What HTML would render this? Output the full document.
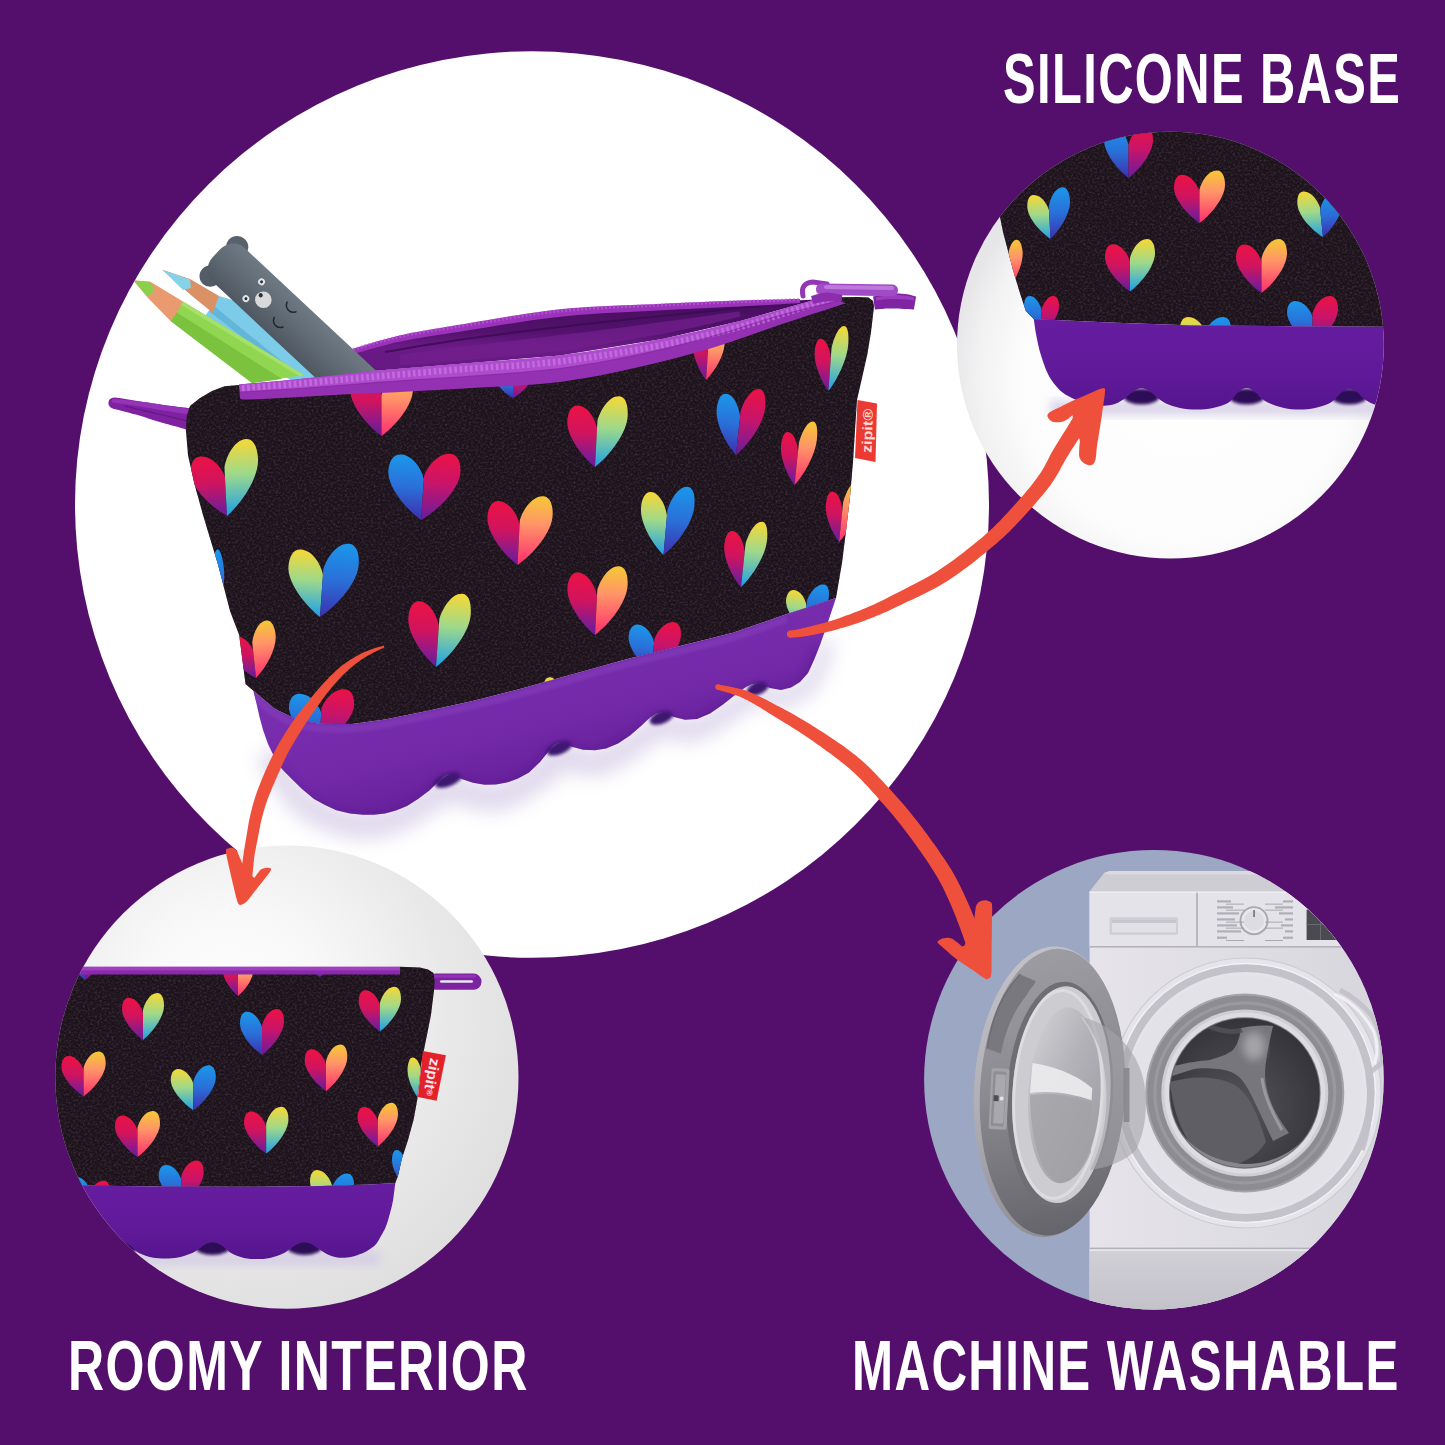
<!DOCTYPE html>
<html lang="en"><head><meta charset="utf-8"><title>Pencil case features</title>
<style>html,body{margin:0;padding:0;background:#530f6b;}body{width:1445px;height:1445px;overflow:hidden;position:relative;font-family:"Liberation Sans",sans-serif;}svg{display:block;position:absolute;left:0;top:0;}
.lbl{position:absolute;color:#fff;font-family:"Liberation Sans",sans-serif;font-weight:bold;font-size:71.2px;line-height:1;white-space:nowrap;transform-origin:0 0;margin:0;letter-spacing:2px;}
</style></head><body>
<svg width="1445" height="1445" viewBox="0 0 1445 1445">
<defs>
<linearGradient id="gred" x1="0" y1="0" x2="0" y2="1"><stop offset="0" stop-color="#ec1244"/><stop offset="0.45" stop-color="#d0145e"/><stop offset="0.8" stop-color="#8a1a8c"/><stop offset="1" stop-color="#641c98"/></linearGradient><linearGradient id="gyc" x1="0" y1="0" x2="0" y2="1"><stop offset="0" stop-color="#f6d835"/><stop offset="0.45" stop-color="#9fd98a"/><stop offset="1" stop-color="#1d9fe8"/></linearGradient><linearGradient id="gblue" x1="0" y1="0" x2="0" y2="1"><stop offset="0" stop-color="#1b97ea"/><stop offset="0.5" stop-color="#2a6fd8"/><stop offset="1" stop-color="#3d2fae"/></linearGradient><linearGradient id="gyp" x1="0" y1="0" x2="0" y2="1"><stop offset="0" stop-color="#f6c834"/><stop offset="0.4" stop-color="#ff9568"/><stop offset="1" stop-color="#ff2d6e"/></linearGradient><linearGradient id="gredr" x1="0" y1="0" x2="0" y2="1"><stop offset="0" stop-color="#ec1244"/><stop offset="0.45" stop-color="#c8146a"/><stop offset="0.8" stop-color="#8a1a8c"/><stop offset="1" stop-color="#641c98"/></linearGradient>
<clipPath id="cBig"><ellipse cx="532" cy="504.5" rx="457" ry="453.3"/></clipPath>
<clipPath id="cTR"><circle cx="1170.4" cy="345.1" r="213.4"/></clipPath>
<clipPath id="cBL"><circle cx="286.9" cy="1077.2" r="231.6"/></clipPath>
<clipPath id="cBR"><circle cx="1153.9" cy="1079.7" r="229.8"/></clipPath>
<clipPath id="fabMain"><polygon points="239,385 300,380 376,372 458,365.5 560,357 662,341 739,323 790,309 816,301 839.7,297.2 858,297 868.5,297.5 873,301 874,306 873.5,311 871,332 867.3,354.5 862,378 857,400 855,430 853,462 850,497 846,531 842,563 836,598 787,614 733,632.7 680,646 626.4,659.3 570,675 518,689.6 473.6,700.7 429.3,710.6 385,719.5 352,724 318.6,723.5 296.4,719.5 274.3,708.4 253.3,690.7 245.5,684 239.2,635 230,611 218.4,566 203,515 194.2,483 188,455 185.8,429 187,415 190,406 200,398 212,391 224.6,386.3"/></clipPath>
<linearGradient id="baseG" gradientUnits="userSpaceOnUse" x1="520" y1="640" x2="560" y2="800"><stop offset="0" stop-color="#7a2fb0"/><stop offset="0.55" stop-color="#7228a7"/><stop offset="1" stop-color="#601d94"/></linearGradient>
<linearGradient id="penG" x1="0" y1="0" x2="0" y2="1"><stop offset="0" stop-color="#6f7983"/><stop offset="0.45" stop-color="#626c76"/><stop offset="1" stop-color="#4f5861"/></linearGradient>
<linearGradient id="liningG" x1="0" y1="0" x2="0" y2="1"><stop offset="0" stop-color="#450d5c"/><stop offset="0.4" stop-color="#52126c"/><stop offset="0.6" stop-color="#6a1b86"/><stop offset="1" stop-color="#62187e"/></linearGradient>
<filter id="blur4" x="-20%" y="-20%" width="140%" height="140%"><feGaussianBlur stdDeviation="4"/></filter>
<filter id="blur8" x="-30%" y="-30%" width="160%" height="160%"><feGaussianBlur stdDeviation="9"/></filter>
<filter id="blur2" x="-20%" y="-20%" width="140%" height="140%"><feGaussianBlur stdDeviation="1.6"/></filter>
<pattern id="weave" width="3" height="3" patternUnits="userSpaceOnUse" patternTransform="rotate(-24)"><rect width="3" height="3" fill="#180f17"/><circle cx="0.8" cy="0.8" r="0.8" fill="#241923"/><circle cx="2.3" cy="2.3" r="0.8" fill="#1f151e"/></pattern>
<filter id="fabNoise" x="0" y="0" width="100%" height="100%" color-interpolation-filters="sRGB"><feTurbulence type="fractalNoise" baseFrequency="0.42 0.5" numOctaves="2" seed="7" result="n"/><feColorMatrix in="n" type="matrix" values="0 0 0 0 0.23  0 0 0 0 0.17  0 0 0 0 0.22  2.4 0 0 0 -1.0" result="c"/><feComposite in="c" in2="SourceGraphic" operator="in"/></filter>
</defs>
<rect width="1445" height="1445" fill="#530f6b"/>
<g clip-path="url(#cBig)">
<rect x="70" y="45" width="925" height="925" fill="#ffffff"/>
<path d="M256.8 758.6 L262 767.9 L269.7 781.7 L279.3 796.9 L290.3 810.1 L302.5 819.8 L315.4 827.2 L328.6 832.8 L341.8 836.7 L355 838.8 L368.4 839.2 L382.2 837.8 L397.2 834.1 L412.7 826.6 L427.4 817.1 L440.3 808.9 L450.1 804.7 L458 804.8 L468.5 807.8 L482.5 811.6 L499.6 811.8 L516.2 805.9 L531.1 797.6 L543.8 789 L554.1 781.9 L561.7 775 L565.6 769.1 L563.9 770 L561 771 L564.8 771.3 L574 774 L587.4 776.8 L603.4 775.6 L619.1 768.7 L634.1 759.2 L647.4 749.7 L657.5 742.6 L663.8 737.9 L666.8 734.4 L662.8 736.8 L660.9 737 L664.6 737.5 L672.3 740.3 L684 742.9 L698.3 741.5 L712.8 734.8 L727.5 725.4 L740.9 716 L750.9 709.3 L756.5 705.8 L758.4 704.4 L756.5 705.1 L757.3 705 L761.5 705.3 L768.1 706.9 L777 708.5 L786.9 707.8 L795.9 704.5 L804.3 699.7 L812.3 693.4 L819.4 685.1 L824.9 674.2 L829.2 661.6 L832.5 650.1 L834.6 642.3 L821.4 637.7 L818.3 645.3 L814.2 656.2 L809.4 667.1 L804.6 674.9 L799.8 679.7 L794.1 683.8 L788.1 686.6 L783.1 688.2 L778.8 688.1 L773.1 686.6 L766.1 684.3 L758.7 683 L752.8 683.4 L747.5 685.3 L744.6 687.3 L739.1 690.7 L728.5 697.3 L715 706.1 L701.6 714.1 L691.7 718.5 L686.1 718.5 L679.9 716.5 L672.1 713.2 L663.1 711 L654.1 712.2 L647.4 717.1 L646.6 718.4 L642.5 721.4 L632.5 727.9 L619.4 736.6 L606.3 744.4 L596.6 748.4 L590 748.4 L581.6 746 L571.2 742.5 L559 741 L546.6 745.5 L540.4 752.7 L539.2 755.2 L535.9 758.1 L526.9 764.2 L515.3 772 L503.6 778.7 L494.4 782.2 L487 781.9 L476.4 778.8 L461.8 775.1 L443.9 775.3 L426.5 782.3 L411.2 791.8 L397.9 800.6 L386.8 805.9 L377 808.3 L367.4 809.3 L357.9 808.9 L348.2 807.3 L338 804.8 L327.8 801 L318.1 796 L309.7 789.9 L301.4 780.5 L292.7 767.6 L284.9 754.6 L279.2 745.4Z" fill="#cdc2e2" opacity="0.6" filter="url(#blur8)"/>
<polygon points="351,350 400,338 458,326.5 560,312 662,305 790,300.7 816,299.4 739.3,321.2 662.4,339 560,355.4 458.4,364 400,368.7 376,370.8 300,379" fill="url(#liningG)"/>
<path d="M400.5 365 L403.8 364.8 L407.7 364.6 L412.3 364.4 L417.5 364 L423.2 363.7 L429.5 363.2 L436.2 362.7 L443.3 362.2 L450.9 361.6 L458.7 361 L467.1 360.2 L476.3 359.3 L486.1 358.5 L496.4 357.5 L507 356.5 L517.9 355.5 L528.9 354.4 L539.8 353.3 L550.5 352.1 L561 350.9 L571.3 349.4 L581.8 347.8 L592.4 346.1 L603 344.4 L613.5 342.6 L623.9 340.8 L634.2 339.1 L644.1 337.3 L653.7 335.6 L663 333.9 L672.1 332.1 L681.3 330.1 L690.5 328.2 L699.5 326.2 L708.1 324.2 L716.3 322.4 L723.7 320.6 L730.4 319 L736 317.6 L740.4 316.5 L739.6 311.5 L734.9 312 L729.2 312.7 L722.4 313.6 L714.9 314.7 L706.6 315.9 L697.9 317.1 L688.8 318.4 L679.5 319.7 L670.2 320.9 L661 322.1 L651.8 323.4 L642.1 324.7 L632.2 326 L621.9 327.4 L611.5 328.8 L600.9 330.1 L590.3 331.4 L579.7 332.7 L569.3 333.9 L559 335.1 L548.7 336.4 L538 337.8 L527.2 339.1 L516.3 340.4 L505.5 341.6 L494.9 342.8 L484.6 343.9 L474.9 345 L465.7 346.1 L457.3 347 L449.4 348.1 L442 349.1 L434.9 350 L428.2 350.9 L422 351.7 L416.3 352.5 L411.2 353.2 L406.6 353.9 L402.7 354.5 L399.5 355Z" fill="#73208f" opacity="0.7"/>
<path d="M385 352 L397.4 349.9 L415.1 346.8 L436 343.4 L458 340 L481.5 336.8 L507.2 333.4 L533.8 330.1 L560 327 L585.6 324.1 L611.2 321.3 L636.8 318.6 L662 316 L689.1 313.2 L717.4 310.3 L742.5 307.8 L760 306" fill="none" stroke="#3b0a52" stroke-width="2" opacity="0.8"/>
<path d="M351.7 354.4 L354.6 353.6 L358.3 352.6 L362.6 351.4 L367.4 350 L372.6 348.5 L378.2 347 L383.8 345.5 L389.6 344 L395.2 342.6 L400.7 341.4 L405.9 340.4 L410.9 339.4 L415.9 338.5 L421 337.7 L426.2 336.8 L431.7 336 L437.6 335.1 L444 334.2 L450.9 333.1 L458.6 332 L467 330.6 L476.2 329.1 L486 327.5 L496.2 325.8 L506.8 324.1 L517.6 322.4 L528.5 320.8 L539.4 319.2 L550.1 317.9 L560.4 316.7 L570.6 315.7 L581.1 314.8 L591.6 314 L602.1 313.3 L612.7 312.7 L623.1 312.2 L633.3 311.7 L643.3 311.2 L652.9 310.8 L662.2 310.2 L671 309.8 L679.6 309.3 L687.9 308.9 L695.9 308.5 L703.8 308.2 L711.4 307.8 L718.8 307.5 L726.1 307.1 L733.2 306.8 L740.1 306.5 L747.1 306.1 L754.2 305.7 L761.3 305.3 L768.3 304.9 L775 304.5 L781.3 304.2 L787.1 303.8 L792.2 303.5 L796.6 303.2 L800.1 303 L799.9 299 L796.4 299 L792 299.1 L786.9 299.2 L781.1 299.4 L774.8 299.5 L768.1 299.7 L761.1 299.9 L754 300.1 L746.9 300.3 L739.9 300.5 L732.9 300.8 L725.8 301 L718.6 301.3 L711.1 301.6 L703.5 301.9 L695.7 302.2 L687.6 302.6 L679.3 302.9 L670.7 303.3 L661.8 303.8 L652.6 304.2 L643 304.5 L633 304.9 L622.8 305.3 L612.3 305.8 L601.8 306.3 L591.1 306.8 L580.5 307.5 L570 308.3 L559.6 309.3 L549.1 310.5 L538.4 311.9 L527.5 313.5 L516.5 315.2 L505.7 316.9 L495 318.7 L484.8 320.4 L475 322.1 L465.8 323.7 L457.4 325 L449.8 326.3 L442.9 327.4 L436.6 328.5 L430.7 329.5 L425.2 330.4 L419.9 331.4 L414.8 332.3 L409.7 333.3 L404.6 334.4 L399.3 335.6 L393.8 336.9 L388.1 338.4 L382.3 340 L376.6 341.6 L371.1 343.2 L365.9 344.8 L361.1 346.3 L356.8 347.6 L353.2 348.7 L350.3 349.6Z" fill="#9a33b9"/>
<path d="M353 349.5 L361.2 347.1 L372.9 343.6 L386.4 339.8 L400 336.5 L412.7 333.9 L425.6 331.7 L440.1 329.3 L458 326.5 L480.4 322.8 L506.2 318.5 L533.5 314.3 L560 311 L586.1 308.8 L612.5 307.2 L638.2 306.1 L662 305 L683.6 304 L703.6 303.1 L722.3 302.4 L740 301.7 L757.7 301.1 L774.9 300.5 L789.6 300 L800 299.7" fill="none" stroke="#b859d6" stroke-width="3" stroke-dasharray="2 2" opacity="0.7"/>
<polygon points="219,296 236,301 322,377 290,380 205,316" fill="#7ccbe8"/>
<polygon points="210,312 292,376 300,376 214,306" fill="#62b7d9"/>
<polygon points="162.3,269.8 190,279 219,296 216,304 213,313 192,296" fill="#da9165"/>
<polygon points="162.3,269.8 190,279.5 191,288 183,290" fill="#86d2e8"/>
<polygon points="183,301.5 304,375 252,383 170.6,321" fill="#90d650"/>
<polygon points="176,312 282,379 252,383 170.6,321" fill="#7bc33e"/>
<polygon points="183,301.5 304,375 300,376.5 181,305" fill="#a6e06a"/>
<polygon points="133.2,280.3 150,281.5 183,301.5 178,311 170.6,321 148,298" fill="#ea9a6f"/>
<polygon points="133.2,280.3 152,283 154,292 147,296" fill="#8ad04a"/>
<g transform="translate(222 260.5) rotate(43)">
<circle cx="2" cy="-20" r="11.2" fill="#59626c"/><circle cx="2" cy="19.6" r="10.6" fill="#545d67"/>
<rect x="-9" y="-24.5" width="230" height="46.5" rx="16" ry="18" fill="url(#penG)"/>
<circle cx="57" cy="0.5" r="8.3" fill="#d9d9db"/><circle cx="52" cy="-1" r="2.1" fill="#2b2f36"/>
<circle cx="43.5" cy="-11.4" r="3.4" fill="#e6e6e8"/><circle cx="43.5" cy="-11.4" r="1.5" fill="#2b2f36"/>
<circle cx="43.5" cy="11.6" r="3.4" fill="#e6e6e8"/><circle cx="43.5" cy="11.6" r="1.5" fill="#2b2f36"/>
<path d="M76 -14 c2 6 10 7 13 1 M77 6 c2 6 10 7 13 1" stroke="#23262c" stroke-width="1.5" fill="none" stroke-linecap="round"/>
</g>
<circle cx="114" cy="403" r="5.6" fill="#7f22a1"/>
<path d="M112.8 408.5 L114.4 408.9 L116.3 409.5 L118.7 410.1 L121.3 410.8 L124.1 411.6 L127.1 412.3 L130.1 413.1 L133 413.9 L135.9 414.6 L138.5 415.3 L140.9 416.1 L143.4 416.8 L145.8 417.6 L148.2 418.4 L150.6 419.2 L153 419.9 L155.5 420.7 L158 421.5 L160.5 422.2 L163.1 423 L165.9 423.8 L168.8 424.6 L171.9 425.5 L175.1 426.3 L178.1 427.1 L181.1 427.9 L183.8 428.7 L186.3 429.4 L188.3 430 L189.9 430.5 L194.1 408.5 L192.5 408.4 L190.3 408.2 L187.8 407.9 L185 407.6 L182 407.3 L178.8 406.9 L175.7 406.5 L172.6 406.1 L169.6 405.7 L166.9 405.4 L164.3 405 L161.8 404.7 L159.3 404.3 L156.8 404 L154.3 403.6 L151.8 403.2 L149.2 402.8 L146.7 402.4 L144.1 402 L141.5 401.7 L138.8 401.2 L135.9 400.7 L132.8 400.2 L129.8 399.7 L126.7 399.2 L123.8 398.8 L121.2 398.3 L118.8 398 L116.7 397.7 L115.2 397.5Z" fill="#7f22a1"/>
<path d="M111.8 402.2 L113.5 402.5 L115.6 402.9 L118.2 403.2 L121.1 403.7 L124.2 404.1 L127.4 404.6 L130.7 405.1 L133.8 405.5 L136.9 406 L139.7 406.5 L142.2 406.9 L144.8 407.3 L147.3 407.7 L149.7 408.1 L152.2 408.6 L154.6 409 L157.1 409.4 L159.5 409.9 L162 410.3 L164.6 410.7 L167.3 411.1 L170.1 411.6 L173.1 412 L176.2 412.5 L179.1 413 L182 413.4 L184.7 413.8 L187 414.2 L189 414.5 L190.6 414.7 L191.4 409.3 L189.9 409 L187.9 408.7 L185.5 408.4 L182.8 408 L180 407.5 L177 407.1 L174 406.6 L171 406.1 L168.1 405.7 L165.4 405.3 L162.9 404.9 L160.4 404.5 L158 404.1 L155.5 403.8 L153.1 403.4 L150.6 403 L148.1 402.6 L145.6 402.2 L143 401.9 L140.3 401.5 L137.5 401.2 L134.4 400.9 L131.2 400.5 L127.9 400.2 L124.7 399.9 L121.6 399.6 L118.7 399.3 L116.1 399.1 L113.9 398.9 L112.2 398.8Z" fill="#9534b8"/>
<path d="M125 406 L131.5 407.6 L140.7 409.8 L150 412 L158.6 414.1 L167.3 416.1 L175 418 L181.9 419.6 L187.9 421 L192 422" fill="none" stroke="#5f1480" stroke-width="1.3" opacity="0.7"/>
<polygon points="239,385 300,380 376,372 458,365.5 560,357 662,341 739,323 790,309 816,301 839.7,297.2 858,297 868.5,297.5 873,301 874,306 873.5,311 871,332 867.3,354.5 862,378 857,400 855,430 853,462 850,497 846,531 842,563 836,598 787,614 733,632.7 680,646 626.4,659.3 570,675 518,689.6 473.6,700.7 429.3,710.6 385,719.5 352,724 318.6,723.5 296.4,719.5 274.3,708.4 253.3,690.7 245.5,684 239.2,635 230,611 218.4,566 203,515 194.2,483 188,455 185.8,429 187,415 190,406 200,398 212,391 224.6,386.3" fill="url(#weave)"/>
<polygon points="239,385 300,380 376,372 458,365.5 560,357 662,341 739,323 790,309 816,301 839.7,297.2 858,297 868.5,297.5 873,301 874,306 873.5,311 871,332 867.3,354.5 862,378 857,400 855,430 853,462 850,497 846,531 842,563 836,598 787,614 733,632.7 680,646 626.4,659.3 570,675 518,689.6 473.6,700.7 429.3,710.6 385,719.5 352,724 318.6,723.5 296.4,719.5 274.3,708.4 253.3,690.7 245.5,684 239.2,635 230,611 218.4,566 203,515 194.2,483 188,455 185.8,429 187,415 190,406 200,398 212,391 224.6,386.3" fill="#000" filter="url(#fabNoise)"/>
<g clip-path="url(#fabMain)">
<g transform="translate(227 440) rotate(-3 0 76)"><path d="M0 76 L0 37.1 C-2.7 27.4 -11.9 15.2 -23.1 15.2 C-30.6 15.2 -34 22.5 -34 31.6 C-34 45.6 -17 65.1 0 76Z" fill="url(#gred)"/><path d="M0 76 L0 27.4 C2.7 15.2 11.9 0 23.1 0 C30.6 0 34 9.1 34 20.5 C34 38 17 62.3 0 76Z" fill="url(#gyc)"/></g>
<g transform="translate(421 452) rotate(4 0 68)"><path d="M0 68 L0 27.1 C-2.9 16.9 -12.6 4.1 -24.5 4.1 C-32.4 4.1 -36 11.8 -36 21.3 C-36 36 -18 56.5 0 68Z" fill="url(#gblue)"/><path d="M0 68 L0 24.5 C2.9 13.6 12.6 0 24.5 0 C32.4 0 36 8.2 36 18.4 C36 34 18 55.8 0 68Z" fill="url(#gredr)"/></g>
<g transform="translate(595 395) rotate(3 0 72)"><path d="M0 72 L0 33.3 C-2.4 23.6 -10.5 11.5 -20.4 11.5 C-27 11.5 -30 18.8 -30 27.8 C-30 41.8 -15 61.1 0 72Z" fill="url(#gred)"/><path d="M0 72 L0 25.9 C2.4 14.4 10.5 0 20.4 0 C27 0 30 8.6 30 19.4 C30 36 15 59 0 72Z" fill="url(#gyc)"/></g>
<g transform="translate(517.5 495) rotate(3 0 70)"><path d="M0 70 L0 29.7 C-2.6 19.6 -11.4 7 -22.1 7 C-29.2 7 -32.5 14.6 -32.5 24 C-32.5 38.5 -16.2 58.7 0 70Z" fill="url(#gred)"/><path d="M0 70 L0 25.2 C2.6 14 11.4 0 22.1 0 C29.2 0 32.5 8.4 32.5 18.9 C32.5 35 16.2 57.4 0 70Z" fill="url(#gyp)"/></g>
<g transform="translate(663.5 485) rotate(5 0 70)"><path d="M0 70 L0 30.6 C-2.1 20.7 -9.3 8.4 -18 8.4 C-23.9 8.4 -26.5 15.8 -26.5 25 C-26.5 39.2 -13.2 58.9 0 70Z" fill="url(#gyc)"/><path d="M0 70 L0 25.2 C2.1 14 9.3 0 18 0 C23.9 0 26.5 8.4 26.5 18.9 C26.5 35 13.2 57.4 0 70Z" fill="url(#gblue)"/></g>
<g transform="translate(320 542) rotate(4 0 75)"><path d="M0 75 L0 32.8 C-2.8 22.2 -12.2 9 -23.8 9 C-31.5 9 -35 16.9 -35 26.8 C-35 42 -17.5 63.1 0 75Z" fill="url(#gyc)"/><path d="M0 75 L0 27 C2.8 15 12.2 0 23.8 0 C31.5 0 35 9 35 20.2 C35 37.5 17.5 61.5 0 75Z" fill="url(#gblue)"/></g>
<g transform="translate(595 565) rotate(3 0 70)"><path d="M0 70 L0 30.6 C-2.4 20.7 -10.5 8.4 -20.4 8.4 C-27 8.4 -30 15.8 -30 25 C-30 39.2 -15 58.9 0 70Z" fill="url(#gred)"/><path d="M0 70 L0 25.2 C2.4 14 10.5 0 20.4 0 C27 0 30 8.4 30 18.9 C30 35 15 57.4 0 70Z" fill="url(#gyp)"/></g>
<g transform="translate(436 592) rotate(4 0 75)"><path d="M0 75 L0 33.7 C-2.5 23.4 -10.8 10.5 -21.1 10.5 C-27.9 10.5 -31 18.2 -31 27.9 C-31 42.8 -15.5 63.4 0 75Z" fill="url(#gred)"/><path d="M0 75 L0 27 C2.5 15 10.8 0 21.1 0 C27.9 0 31 9 31 20.2 C31 37.5 15.5 61.5 0 75Z" fill="url(#gyc)"/></g>
<g transform="translate(256 622) rotate(-6 0 56)"><path d="M0 56 L0 28 C-1.9 21.1 -8.4 12.3 -16.3 12.3 C-21.6 12.3 -24 17.6 -24 24.1 C-24 34.2 -12 48.1 0 56Z" fill="url(#gred)"/><path d="M0 56 L0 20.2 C1.9 11.2 8.4 0 16.3 0 C21.6 0 24 6.7 24 15.1 C24 28 12 45.9 0 56Z" fill="url(#gyp)"/></g>
<g transform="translate(651 620) rotate(6 0 52)"><path d="M0 52 L0 22.7 C-2.1 15.4 -9.1 6.2 -17.7 6.2 C-23.4 6.2 -26 11.7 -26 18.6 C-26 29.1 -13 43.8 0 52Z" fill="url(#gblue)"/><path d="M0 52 L0 18.7 C2.1 10.4 9.1 0 17.7 0 C23.4 0 26 6.2 26 14 C26 26 13 42.6 0 52Z" fill="url(#gredr)"/></g>
<g transform="translate(319.5 688) rotate(3 0 57)"><path d="M0 57 L0 24.9 C-2.6 16.9 -11.4 6.8 -22.1 6.8 C-29.2 6.8 -32.5 12.9 -32.5 20.4 C-32.5 31.9 -16.2 48 0 57Z" fill="url(#gblue)"/><path d="M0 57 L0 20.5 C2.6 11.4 11.4 0 22.1 0 C29.2 0 32.5 6.8 32.5 15.4 C32.5 28.5 16.2 46.7 0 57Z" fill="url(#gredr)"/></g>
<g transform="translate(828.5 325) rotate(4 0 66)"><path d="M0 66 L0 33.1 C-1.3 24.8 -5.8 14.5 -11.2 14.5 C-14.8 14.5 -16.5 20.7 -16.5 28.4 C-16.5 40.3 -8.2 56.7 0 66Z" fill="url(#gred)"/><path d="M0 66 L0 23.8 C1.3 13.2 5.8 0 11.2 0 C14.8 0 16.5 7.9 16.5 17.8 C16.5 33 8.2 54.1 0 66Z" fill="url(#gyc)"/></g>
<g transform="translate(736 387) rotate(6 0 68)"><path d="M0 68 L0 29.7 C-1.9 20.1 -8.4 8.2 -16.3 8.2 C-21.6 8.2 -24 15.3 -24 24.3 C-24 38.1 -12 57.2 0 68Z" fill="url(#gblue)"/><path d="M0 68 L0 24.5 C1.9 13.6 8.4 0 16.3 0 C21.6 0 24 8.2 24 18.4 C24 34 12 55.8 0 68Z" fill="url(#gredr)"/></g>
<g transform="translate(794.5 420) rotate(6 0 65)"><path d="M0 65 L0 31.7 C-1.4 23.4 -6.1 13 -11.9 13 C-15.8 13 -17.5 19.2 -17.5 27 C-17.5 39 -8.8 55.6 0 65Z" fill="url(#gred)"/><path d="M0 65 L0 23.4 C1.4 13 6.1 0 11.9 0 C15.8 0 17.5 7.8 17.5 17.6 C17.5 32.5 8.8 53.3 0 65Z" fill="url(#gyp)"/></g>
<g transform="translate(741 520) rotate(6 0 67)"><path d="M0 67 L0 31.8 C-1.7 23 -7.3 12.1 -14.3 12.1 C-18.9 12.1 -21 18.7 -21 26.9 C-21 39.5 -10.5 57.1 0 67Z" fill="url(#gred)"/><path d="M0 67 L0 24.1 C1.7 13.4 7.3 0 14.3 0 C18.9 0 21 8 21 18.1 C21 33.5 10.5 54.9 0 67Z" fill="url(#gyc)"/></g>
<g transform="translate(839 480) rotate(6 0 62)"><path d="M0 62 L0 30.3 C-1.4 22.3 -5.9 12.4 -11.6 12.4 C-15.3 12.4 -17 18.4 -17 25.8 C-17 37.2 -8.5 53.1 0 62Z" fill="url(#gred)"/><path d="M0 62 L0 22.3 C1.4 12.4 5.9 0 11.6 0 C15.3 0 17 7.4 17 16.7 C17 31 8.5 50.8 0 62Z" fill="url(#gyp)"/></g>
<g transform="translate(803 582) rotate(8 0 48)"><path d="M0 48 L0 23.4 C-1.7 17.3 -7.3 9.6 -14.3 9.6 C-18.9 9.6 -21 14.2 -21 20 C-21 28.8 -10.5 41.1 0 48Z" fill="url(#gyc)"/><path d="M0 48 L0 17.3 C1.7 9.6 7.3 0 14.3 0 C18.9 0 21 5.8 21 13 C21 24 10.5 39.4 0 48Z" fill="url(#gblue)"/></g>
<g transform="translate(381.5 372)"><path d="M0 64 L0 23 C-2.5 12.8 -11 0 -21.4 0 C-28.4 0 -31.5 7.7 -31.5 17.3 C-31.5 32 -15.8 52.5 0 64Z" fill="url(#gred)"/><path d="M0 64 L0 23 C2.5 12.8 11 0 21.4 0 C28.4 0 31.5 7.7 31.5 17.3 C31.5 32 15.8 52.5 0 64Z" fill="url(#gyp)"/></g>
<g transform="translate(513 372)"><path d="M0 26 L0 9.4 C-1.4 5.2 -5.9 0 -11.6 0 C-15.3 0 -17 3.1 -17 7 C-17 13 -8.5 21.3 0 26Z" fill="url(#gblue)"/><path d="M0 26 L0 9.4 C1.4 5.2 5.9 0 11.6 0 C15.3 0 17 3.1 17 7 C17 13 8.5 21.3 0 26Z" fill="url(#gredr)"/></g>
<g transform="translate(706 330) rotate(4 0 50)"><path d="M0 50 L0 18 C-1.3 10 -5.6 0 -10.9 0 C-14.4 0 -16 6 -16 13.5 C-16 25 -8 41 0 50Z" fill="url(#gred)"/><path d="M0 50 L0 18 C1.3 10 5.6 0 10.9 0 C14.4 0 16 6 16 13.5 C16 25 8 41 0 50Z" fill="url(#gyp)"/></g>
<g transform="translate(557.5 675) rotate(8 0 37)"><path d="M0 37 L0 15.7 C-1.4 10.4 -6.1 3.7 -11.9 3.7 C-15.8 3.7 -17.5 7.7 -17.5 12.7 C-17.5 20.3 -8.8 31 0 37Z" fill="url(#gyc)"/><path d="M0 37 L0 13.3 C1.4 7.4 6.1 0 11.9 0 C15.8 0 17.5 4.4 17.5 10 C17.5 18.5 8.8 30.3 0 37Z" fill="url(#gblue)"/></g>
<g transform="translate(218.5 550) rotate(-8 0 62)"><path d="M0 62 L0 22.3 C-0.9 12.4 -4 0 -7.8 0 C-10.3 0 -11.5 7.4 -11.5 16.7 C-11.5 31 -5.8 50.8 0 62Z" fill="url(#gyc)"/><path d="M0 62 L0 22.3 C0.9 12.4 4 0 7.8 0 C10.3 0 11.5 7.4 11.5 16.7 C11.5 31 5.8 50.8 0 62Z" fill="url(#gblue)"/></g>
</g>
<path d="M239 384.5 L249.6 383.6 L264.8 382.3 L282.3 380.7 L300 379 L319.2 377 L340.3 374.7 L360.3 372.5 L376 370.8 L384.9 369.9 L389.1 369.5 L392.8 369.3 L400 368.7 L411.2 367.8 L424.4 366.8 L440 365.5 L458.4 364 L480.7 362.3 L506.4 360.4 L533.5 358.2 L560 355.4 L586.1 351.9 L612.7 347.8 L638.6 343.4 L662.4 339 L684 334.6 L704.1 330 L722.5 325.4 L739.3 321.2 L754.4 317.2 L767.8 313.5 L779.7 310 L790 307 L798.5 304.5 L805.2 302.5 L810.8 300.8 L816 299.4 L821.1 298.4 L825.6 297.7 L829.4 297.3 L832 297 L846 303.5 L846.6 303.2 L847.9 302.7 L847.1 302.9 L841.7 304.6 L829.9 308.4 L813.4 313.7 L795.1 319.7 L777.7 325.5 L762 331 L746.5 336.6 L730.5 342.1 L713.6 347.5 L695.3 352.8 L676 358 L656.3 362.9 L636.8 367.5 L617.7 371.7 L598.6 375.7 L579.4 379.1 L560 382 L540.2 384 L520.2 385.4 L500.1 386.4 L480 387.5 L459.3 388.8 L438.1 390 L417.8 391.1 L400 392 L385.6 392.7 L373.7 393.1 L362.7 393.5 L351 394 L338.4 394.7 L325.7 395.5 L312.9 396.3 L300 397 L286 397.8 L271.3 398.5 L257.9 399.2 L248 399.5 L242.7 399.4 L240.8 398.9 L240.4 398.4 L240 398 Z" fill="#9431b3"/>
<path d="M239 384.5 L249.6 383.6 L264.8 382.3 L282.3 380.7 L300 379 L319.2 377 L340.3 374.7 L360.3 372.5 L376 370.8 L384.9 369.9 L389.1 369.5 L392.8 369.3 L400 368.7 L411.2 367.8 L424.4 366.8 L440 365.5 L458.4 364 L480.7 362.3 L506.4 360.4 L533.5 358.2 L560 355.4 L586.1 351.9 L612.7 347.8 L638.6 343.4 L662.4 339 L684 334.6 L704.1 330 L722.5 325.4 L739.3 321.2 L754.4 317.2 L767.8 313.5 L779.7 310 L790 307 L798.5 304.5 L805.2 302.5 L810.8 300.8 L816 299.4 L821.1 298.4 L825.6 297.7 L829.4 297.3 L832 297 L841.7 300 L830.2 302.8 L813.7 306.8 L795.2 311.3 L777.7 316 L762 320.7 L746.5 325.8 L730.5 331 L713.6 336 L695.3 340.9 L676 345.9 L656.3 350.7 L636.8 355 L617.7 358.9 L598.6 362.5 L579.4 365.7 L560 368.5 L540.2 370.7 L520.2 372.5 L500.1 374 L480 375.5 L459.3 377 L438.1 378.4 L417.8 379.6 L400 380.8 L385.6 381.8 L373.7 382.7 L362.7 383.6 L351 384.5 L338.6 385.5 L326.2 386.5 L313.4 387.5 L300 388.5 L284.2 389.5 L266.8 390.5 L251 391.4 L240 392 Z" fill="#ae4bce"/>
<path d="M242 388.5 L252 387.6 L266.2 386.4 L282.9 385 L300 383.5 L319 381.8 L340.1 379.8 L360.2 377.9 L376 376.5 L384.9 375.7 L389.1 375.4 L392.8 375.1 L400 374.5 L411.2 373.5 L424.4 372.4 L440 371 L458.4 369.5 L480.7 367.9 L506.4 366.2 L533.5 364.2 L560 361.5 L586.1 358 L612.7 353.9 L638.6 349.4 L662.4 345 L684 340.5 L704.1 335.9 L722.5 331.4 L739.3 327 L754.1 322.9 L767.1 318.9 L778.8 315.1 L790 311.5 L801.3 308 L812.2 304.5 L821.5 301.6 L828 299.5" fill="none" stroke="#c775e0" stroke-width="6.5" stroke-dasharray="2.6 2.6" opacity="0.75"/>
<path d="M240 392 L251 391.4 L266.8 390.5 L284.2 389.5 L300 388.5 L313.4 387.5 L326.2 386.5 L338.6 385.5 L351 384.5 L362.7 383.6 L373.7 382.7 L385.6 381.8 L400 380.8 L417.8 379.6 L438.1 378.4 L459.3 377 L480 375.5 L500.1 374 L520.2 372.5 L540.2 370.7 L560 368.5 L579.4 365.7 L598.6 362.5 L617.7 358.9 L636.8 355 L656.3 350.7 L676 345.9 L695.3 340.9 L713.6 336 L730.5 331 L746.5 325.8 L762 320.7 L777.7 316 L795.2 311.3 L813.7 306.8 L830.2 302.8 L841.7 300" fill="none" stroke="#7d2398" stroke-width="1.2" opacity="0.6"/>
<path d="M874.9 309.4 L875.9 309.4 L877.2 309.3 L878.7 309.2 L880.3 309.1 L882 308.9 L883.8 308.8 L885.6 308.6 L887.4 308.5 L889 308.5 L890.4 308.5 L891.7 308.4 L893.2 308.4 L894.6 308.4 L896.1 308.5 L897.5 308.5 L899 308.6 L900.4 308.7 L901.8 308.8 L903.1 308.9 L904.4 309 L905.5 309 L906.6 309 L907.7 309.1 L908.7 309.1 L909.8 309.2 L910.8 309.3 L911.7 309.3 L912.5 309.4 L913.3 309.4 L913.9 309.4 L916.1 296.6 L915.5 296.4 L914.9 296.2 L914.1 295.9 L913.2 295.7 L912.1 295.4 L911 295.1 L909.7 294.8 L908.4 294.5 L907 294.3 L905.6 294 L904.3 293.9 L902.9 293.8 L901.4 293.7 L899.8 293.6 L898.2 293.5 L896.5 293.5 L894.8 293.4 L893.1 293.4 L891.4 293.4 L889.6 293.5 L887.8 293.7 L885.9 294 L883.9 294.3 L882 294.7 L880.1 295 L878.3 295.4 L876.7 295.7 L875.2 296.1 L874 296.3 L873.1 296.6Z" fill="#7f24a2"/>
<path d="M876.2 300.5 L877.1 300.4 L878.2 300.3 L879.4 300.1 L880.8 299.9 L882.3 299.7 L883.9 299.5 L885.5 299.3 L887.1 299.2 L888.7 299.1 L890.1 299 L891.5 298.9 L893 298.9 L894.6 298.9 L896.2 299 L897.7 299 L899.3 299.1 L900.8 299.2 L902.2 299.3 L903.6 299.4 L904.8 299.5 L906 299.6 L907.1 299.6 L908.1 299.8 L909.1 299.9 L910.1 300 L911 300.1 L911.8 300.2 L912.5 300.3 L913.2 300.4 L913.7 300.5 L914.3 297.5 L913.8 297.4 L913.2 297.2 L912.5 297 L911.7 296.8 L910.8 296.6 L909.8 296.3 L908.7 296.1 L907.6 295.9 L906.4 295.7 L905.2 295.5 L903.9 295.4 L902.5 295.3 L901 295.2 L899.5 295.1 L897.9 295 L896.3 295 L894.6 294.9 L893 294.9 L891.4 294.9 L889.9 295 L888.3 295.2 L886.7 295.4 L885 295.6 L883.4 295.9 L881.8 296.2 L880.3 296.5 L878.9 296.8 L877.6 297.1 L876.6 297.3 L875.8 297.5Z" fill="#9a3cbc"/>
<path d="M803 296 q-3 -13 10 -14 l14 2" fill="none" stroke="#9238b6" stroke-width="5" stroke-linecap="round"/>
<rect x="816" y="284" width="82" height="11.6" rx="5.5" fill="#a04cc6" transform="rotate(1 857 290)"/>
<rect x="824" y="285.5" width="70" height="4" rx="2" fill="#bd78da" transform="rotate(1 857 290)"/>
<path d="M812.9 303.9 L813.8 303.7 L814.9 303.5 L816.2 303.2 L817.6 302.9 L819 302.6 L820.5 302.2 L822.1 302 L823.6 301.7 L825 301.6 L826.3 301.5 L827.6 301.3 L829.2 301.2 L830.9 301.1 L832.7 301 L834.5 301 L836.3 301.1 L838 301.1 L839.5 301.1 L840.8 301.1 L841.8 301 L842.2 295 L841.3 294.8 L840.1 294.5 L838.7 294.2 L837 293.9 L835.2 293.6 L833.3 293.3 L831.4 293 L829.4 292.8 L827.5 292.6 L825.7 292.5 L823.9 292.7 L822.1 293.1 L820.3 293.4 L818.6 293.9 L817 294.3 L815.4 294.8 L814 295.2 L812.8 295.6 L811.8 295.9 L811.1 296.1Z" fill="#8c2dae"/>
<polygon points="857.5,400 877,403.5 875.5,462 855,458" fill="#ea3a32"/>
<text transform="translate(871.5 453) rotate(-88)" font-family="Liberation Sans, sans-serif" font-weight="bold" font-size="14" fill="#ffd9d4" textLength="44" lengthAdjust="spacingAndGlyphs">zipit®</text>
<ellipse cx="449" cy="779.5" rx="15" ry="6.5" fill="#35106a" opacity="0.95" filter="url(#blur2)" transform="rotate(-24 449 779.5)"/>
<ellipse cx="560" cy="747.5" rx="14" ry="6.5" fill="#35106a" opacity="0.95" filter="url(#blur2)" transform="rotate(-24 560 747.5)"/>
<ellipse cx="662" cy="717" rx="13" ry="6.5" fill="#35106a" opacity="0.95" filter="url(#blur2)" transform="rotate(-24 662 717)"/>
<ellipse cx="758" cy="688" rx="12" ry="6.5" fill="#35106a" opacity="0.95" filter="url(#blur2)" transform="rotate(-24 758 688)"/>
<polygon points="253.3,690.7 256.6,704 259.5,717 263.2,730.6 268,744 274.3,757 282,769 292,779.3 302,789 314,799 325,805 336.3,810.3 350,813.5 362.9,814.7 374,814.8 385,813.6 396,810.5 407,805.9 418,799 429.3,790.4 436,784 442.6,777 447,774.6 451.4,774.9 456.5,776.8 462.5,779.3 473,782.8 484.6,784.8 496,784.6 506.8,782.6 518,778.5 529,772.6 540,762 548,752 553.5,745 558.5,742.5 564,743.3 571,746.5 583,749.8 595,750.2 606,748.6 618,743.5 630,735.5 641,726 650,717.5 656,713.5 661,712.5 667,713.8 674,717 685,719.8 697,719 710,713.5 723,704.5 735,695 746,687 752,684 757,683.5 763,684.5 770,688 781,689.9 791,687.5 800,682 808,673 814,660 820,645 826,628 831,613 836,598 787,614 733,632.7 680,646 626.4,659.3 570,675 518,689.6 473.6,700.7 429.3,710.6 385,719.5 352,724 318.6,723.5 296.4,719.5 274.3,708.4 253.3,690.7" fill="url(#baseG)"/>
<clipPath id="baseMainClip"><polygon points="253.3,690.7 256.6,704 259.5,717 263.2,730.6 268,744 274.3,757 282,769 292,779.3 302,789 314,799 325,805 336.3,810.3 350,813.5 362.9,814.7 374,814.8 385,813.6 396,810.5 407,805.9 418,799 429.3,790.4 436,784 442.6,777 447,774.6 451.4,774.9 456.5,776.8 462.5,779.3 473,782.8 484.6,784.8 496,784.6 506.8,782.6 518,778.5 529,772.6 540,762 548,752 553.5,745 558.5,742.5 564,743.3 571,746.5 583,749.8 595,750.2 606,748.6 618,743.5 630,735.5 641,726 650,717.5 656,713.5 661,712.5 667,713.8 674,717 685,719.8 697,719 710,713.5 723,704.5 735,695 746,687 752,684 757,683.5 763,684.5 770,688 781,689.9 791,687.5 800,682 808,673 814,660 820,645 826,628 831,613 836,598 787,614 733,632.7 680,646 626.4,659.3 570,675 518,689.6 473.6,700.7 429.3,710.6 385,719.5 352,724 318.6,723.5 296.4,719.5 274.3,708.4 253.3,690.7"/></clipPath>
<g clip-path="url(#baseMainClip)">
<path d="M785.8 615.7 L771.8 620.8 L751.8 627.9 L732 634.3 L714.4 639.1 L696.9 643.4 L679.2 647.6 L661.4 651.9 L643.6 656.3 L625.5 660.9 L606.7 666 L587.6 671.4 L569 676.6 L551.1 681.7 L533.7 686.7 L517.1 691.2 L501.8 695.2 L487.3 698.8 L472.8 702.3 L458 705.7 L443.3 709 L428.6 712.2 L413.4 715.4 L398.3 718.5 L384.4 721.1 L372.6 723.1 L362.2 724.6 L351.8 725.5 L340.5 725.8 L329.1 725.6 L318.9 725 L310.8 724.2 L304.2 723.1 L297.5 721.2 L290.4 718.4 L283.3 714.8 L276.3 710.5 L268.7 704.6 L261 697.9 L255.6 693.1 L251 698.3 L256.4 703.2 L264.2 710 L272.3 716.3 L279.9 720.9 L287.6 724.8 L295.3 727.8 L302.6 729.9 L309.9 731.2 L318.3 732 L328.8 732.6 L340.5 732.8 L352.2 732.5 L363 731.5 L373.7 730 L385.6 727.9 L399.6 725.3 L414.8 722.2 L430 719 L444.8 715.8 L459.6 712.5 L474.4 709.1 L488.9 705.6 L503.5 702 L518.9 698 L535.5 693.4 L553 688.4 L571 683.4 L589.5 678.1 L608.6 672.8 L627.3 667.7 L645.3 663.1 L663.1 658.7 L680.8 654.4 L698.5 650.2 L716.2 645.9 L734 641.1 L754.1 634.5 L774.1 627.3 L788.2 622.3Z" fill="#8a45c0" opacity="0.45" filter="url(#blur2)"/>
<path d="M264.7 769.6 L269.8 775.5 L277.3 784.3 L286.2 794 L295.6 802.5 L305.4 809.3 L315.8 815.4 L326.7 820.7 L338 824.7 L349.6 827.6 L361.8 829.5 L374.2 830.1 L386.4 828.9 L398.4 825.2 L409.8 819.7 L420.1 813.5 L429.3 807.6 L436.4 800.9 L441 794.4 L444.1 790.6 L447.6 789 L455.8 790.1 L467.7 794 L481.4 798.4 L495.3 800 L508.1 797.4 L519.6 792.5 L530 786.6 L539.4 780.5 L547 772.9 L552.4 764.9 L556.5 759.1 L559.7 756.8 L564.5 757.2 L572.7 760.4 L583.4 764.3 L596 764.9 L609 760.7 L621.9 754.1 L633.9 746.9 L643.8 740.9 L651.2 735.6 L656.2 730.8 L659.3 728 L661.7 727 L665.5 727.6 L671.7 730.3 L680.4 733.5 L691.1 733.9 L702.3 730.2 L713.5 724.6 L724.1 718.4 L733.6 713 L741.6 708 L748.4 703.2 L753.9 699.6 L758.1 697.9 L761.7 698.2 L766.5 700.2 L773.2 703 L781.3 704 L789 702.6 L796.4 699.9 L803.7 695.7 L810.4 689.4 L816.3 680.4 L821.4 669.6 L825.6 659.5 L828.4 652.7 L815.6 647.3 L812.7 654.1 L808.6 663.9 L804 673.7 L799.6 680.6 L795.3 684.4 L790.5 687.2 L785.3 689.1 L780.7 690 L776.9 689.5 L771.8 687.3 L764.8 684.5 L755.9 684.1 L747.6 687.1 L740.6 691.6 L733.9 696.4 L726.4 701 L717.2 706.3 L706.8 712.3 L696.8 717.4 L688.9 720.1 L683.2 719.8 L676.9 717.3 L669.4 714.1 L660.3 713 L652.2 716 L646.8 720.4 L642.3 724.7 L636.2 729.1 L626.6 734.9 L615.1 741.8 L603.5 747.8 L594 751.1 L586.3 750.6 L577.6 747.3 L567.6 743.6 L556.3 743.2 L546.8 749 L540.9 756.9 L536.2 764 L530.6 769.5 L522.7 774.7 L513.5 780 L503.9 784 L494.7 786 L484.5 784.7 L472 780.7 L459 776.4 L446.4 775 L436.1 779.1 L430 785.8 L425.9 791.7 L420.7 796.4 L412.7 801.6 L403.1 807.3 L393.2 812.2 L383.6 815.1 L373.8 816.1 L363.2 815.6 L352.4 813.9 L342 811.3 L332.1 807.7 L322.4 803.1 L313 797.5 L304.4 791.5 L296 784 L287.7 775 L280.5 766.5 L275.3 760.4Z" fill="#4d167f" opacity="0.4" filter="url(#blur4)"/>
<ellipse cx="447" cy="780" rx="14" ry="6" fill="#2e0a60" opacity="0.6" filter="url(#blur2)" transform="rotate(-22 447 780)"/>
<ellipse cx="558.5" cy="748" rx="13" ry="6" fill="#2e0a60" opacity="0.6" filter="url(#blur2)" transform="rotate(-22 558.5 748)"/>
<ellipse cx="661" cy="718" rx="12" ry="6" fill="#2e0a60" opacity="0.6" filter="url(#blur2)" transform="rotate(-22 661 718)"/>
<ellipse cx="757" cy="689" rx="11" ry="6" fill="#2e0a60" opacity="0.6" filter="url(#blur2)" transform="rotate(-22 757 689)"/>
</g>
</g>
<defs>
<clipPath id="fabTR"><polygon points="990,120 1400,120 1400,327 1383.4,326.8 1300,326.2 1194,325.5 1110,322.5 1033.7,318.9 1025.8,311 1019.6,292 1013,270 1008.5,253 1003,232 999,212 995,190"/></clipPath>
<radialGradient id="trBg" gradientUnits="userSpaceOnUse" cx="1185" cy="380" r="235"><stop offset="0" stop-color="#ffffff"/><stop offset="0.7" stop-color="#fcfcfc"/><stop offset="0.88" stop-color="#f2f2f3"/><stop offset="1" stop-color="#e6e6e8"/></radialGradient>
<linearGradient id="trBase" x1="0" y1="0" x2="0" y2="1"><stop offset="0" stop-color="#661da0"/><stop offset="0.6" stop-color="#601a99"/><stop offset="1" stop-color="#55158e"/></linearGradient>
</defs>
<g clip-path="url(#cTR)">
<rect x="950" y="125" width="440" height="440" fill="url(#trBg)"/>
<polygon points="990,120 1400,120 1400,327 1383.4,326.8 1300,326.2 1194,325.5 1110,322.5 1033.7,318.9 1025.8,311 1019.6,292 1013,270 1008.5,253 1003,232 999,212 995,190" fill="url(#weave)"/>
<polygon points="990,120 1400,120 1400,327 1383.4,326.8 1300,326.2 1194,325.5 1110,322.5 1033.7,318.9 1025.8,311 1019.6,292 1013,270 1008.5,253 1003,232 999,212 995,190" fill="#000" filter="url(#fabNoise)"/>
<g clip-path="url(#fabTR)">
<g transform="translate(1128.5 126)"><path d="M0 52 L0 18.7 C-2 10.4 -8.6 0 -16.7 0 C-22.1 0 -24.5 6.2 -24.5 14 C-24.5 26 -12.2 42.6 0 52Z" fill="url(#gblue)"/><path d="M0 52 L0 18.7 C2 10.4 8.6 0 16.7 0 C22.1 0 24.5 6.2 24.5 14 C24.5 26 12.2 42.6 0 52Z" fill="url(#gredr)"/></g>
<g transform="translate(1050.5 188) rotate(-3 0 51)"><path d="M0 51 L0 22.3 C-1.7 15.1 -7.5 6.1 -14.6 6.1 C-19.4 6.1 -21.5 11.5 -21.5 18.2 C-21.5 28.6 -10.8 42.9 0 51Z" fill="url(#gyc)"/><path d="M0 51 L0 18.4 C1.7 10.2 7.5 0 14.6 0 C19.4 0 21.5 6.1 21.5 13.8 C21.5 25.5 10.8 41.8 0 51Z" fill="url(#gblue)"/></g>
<g transform="translate(1199.5 170.5)"><path d="M0 52.5 L0 21.6 C-2 13.9 -8.9 4.2 -17.3 4.2 C-22.9 4.2 -25.5 10 -25.5 17.2 C-25.5 28.3 -12.8 43.8 0 52.5Z" fill="url(#gred)"/><path d="M0 52.5 L0 18.9 C2 10.5 8.9 0 17.3 0 C22.9 0 25.5 6.3 25.5 14.2 C25.5 26.2 12.8 43 0 52.5Z" fill="url(#gyp)"/></g>
<g transform="translate(1323 189.6) rotate(-6 0 47.4)"><path d="M0 47.4 L0 17.1 C-1.8 9.5 -7.7 0 -15 0 C-19.8 0 -22 5.7 -22 12.8 C-22 23.7 -11 38.9 0 47.4Z" fill="url(#gyc)"/><path d="M0 47.4 L0 20.1 C1.8 13.3 7.7 4.7 15 4.7 C19.8 4.7 22 9.9 22 16.3 C22 26.1 11 39.7 0 47.4Z" fill="url(#gblue)"/></g>
<g transform="translate(1130 239)"><path d="M0 52.5 L0 22.3 C-2 14.7 -8.8 5.2 -17 5.2 C-22.5 5.2 -25 10.9 -25 18 C-25 28.9 -12.5 44 0 52.5Z" fill="url(#gred)"/><path d="M0 52.5 L0 18.9 C2 10.5 8.8 0 17 0 C22.5 0 25 6.3 25 14.2 C25 26.2 12.5 43 0 52.5Z" fill="url(#gyc)"/></g>
<g transform="translate(1261.5 239)"><path d="M0 54 L0 22.9 C-2 15.1 -8.9 5.4 -17.3 5.4 C-22.9 5.4 -25.5 11.2 -25.5 18.5 C-25.5 29.7 -12.8 45.3 0 54Z" fill="url(#gred)"/><path d="M0 54 L0 19.4 C2 10.8 8.9 0 17.3 0 C22.9 0 25.5 6.5 25.5 14.6 C25.5 27 12.8 44.3 0 54Z" fill="url(#gyp)"/></g>
<g transform="translate(1011 240.5) rotate(-6 0 44.5)"><path d="M0 44.5 L0 18.9 C-1.2 12.5 -5.2 4.5 -10.2 4.5 C-13.5 4.5 -15 9.3 -15 15.3 C-15 24.5 -7.5 37.3 0 44.5Z" fill="url(#gred)"/><path d="M0 44.5 L0 16 C1.2 8.9 5.2 0 10.2 0 C13.5 0 15 5.3 15 12 C15 22.2 7.5 36.5 0 44.5Z" fill="url(#gyp)"/></g>
<g transform="translate(1041.5 296)"><path d="M0 39 L0 14 C-1.4 7.8 -6.1 0 -11.9 0 C-15.8 0 -17.5 4.7 -17.5 10.5 C-17.5 19.5 -8.8 32 0 39Z" fill="url(#gblue)"/><path d="M0 39 L0 14 C1.4 7.8 6.1 0 11.9 0 C15.8 0 17.5 4.7 17.5 10.5 C17.5 19.5 8.8 32 0 39Z" fill="url(#gredr)"/></g>
<g transform="translate(1312.5 296)"><path d="M0 49 L0 20.8 C-2 13.7 -8.9 4.9 -17.3 4.9 C-22.9 4.9 -25.5 10.2 -25.5 16.8 C-25.5 27 -12.8 41.1 0 49Z" fill="url(#gblue)"/><path d="M0 49 L0 17.6 C2 9.8 8.9 0 17.3 0 C22.9 0 25.5 5.9 25.5 13.2 C25.5 24.5 12.8 40.2 0 49Z" fill="url(#gredr)"/></g>
<g transform="translate(1205.5 317)"><path d="M0 43 L0 15.5 C-2 8.6 -8.9 0 -17.3 0 C-22.9 0 -25.5 5.2 -25.5 11.6 C-25.5 21.5 -12.8 35.3 0 43Z" fill="url(#gyc)"/><path d="M0 43 L0 15.5 C2 8.6 8.9 0 17.3 0 C22.9 0 25.5 5.2 25.5 11.6 C25.5 21.5 12.8 35.3 0 43Z" fill="url(#gblue)"/></g>
</g>
<rect x="1050" y="400" width="350" height="16" fill="#d3cbe4" opacity="0.75" filter="url(#blur4)"/>
<ellipse cx="1141.5" cy="396.5" rx="18" ry="8" fill="#2f1158" filter="url(#blur2)"/>
<ellipse cx="1246.7" cy="396.5" rx="18" ry="8" fill="#2f1158" filter="url(#blur2)"/>
<ellipse cx="1349.2" cy="396.5" rx="18" ry="8" fill="#2f1158" filter="url(#blur2)"/>
<path d="M1033.7 318.9 L1034.1 321.6 L1034.7 325.6 L1035.3 330 L1036 334 L1036.7 337.6 L1037.4 341.1 L1038.1 344.5 L1038.9 347.8 L1039.7 351 L1040.6 354 L1041.5 357 L1042.5 360 L1043.5 362.9 L1044.5 365.8 L1045.5 368.6 L1046.8 371.5 L1048.2 374.4 L1049.8 377.4 L1051.6 380.3 L1053.5 383 L1055.6 385.6 L1057.8 388.1 L1060.1 390.4 L1062.6 392.5 L1065.3 394.4 L1068.1 396.1 L1071 397.6 L1074 399 L1077.1 400.2 L1080.3 401.3 L1083.4 402.2 L1086.3 403 L1088.9 403.7 L1091.4 404.2 L1093.7 404.6 L1096 405 L1098.3 405.3 L1100.4 405.5 L1102.6 405.7 L1104.7 405.7 L1106.8 405.6 L1109 405.3 L1111 405 L1113 404.5 L1114.9 403.9 L1116.6 403.2 L1118.4 402.4 L1120 401.5 L1121.5 400.6 L1123 399.7 L1124.5 398.7 L1126 397.5 L1127.6 396.1 L1129.3 394.5 L1131.1 392.9 L1133 391.5 L1135 390.3 L1137.2 389.3 L1139.3 388.5 L1141.5 388.2 L1143.7 388.5 L1145.8 389.3 L1148 390.3 L1150 391.5 L1151.8 392.8 L1153.5 394.3 L1155.1 395.9 L1157 397.5 L1159 399 L1161.1 400.6 L1163.4 402.1 L1166 403.5 L1169.1 404.8 L1172.5 406 L1176.2 407.1 L1180 408 L1184 408.7 L1188.2 409.2 L1192.5 409.5 L1196.7 409.6 L1200.9 409.5 L1205 409.2 L1209.1 408.7 L1213 408 L1216.8 407.1 L1220.6 406 L1224.1 404.8 L1227 403.5 L1229.1 402.2 L1230.5 400.9 L1231.7 399.5 L1233 398 L1234.5 396.4 L1235.9 394.6 L1237.4 392.9 L1239 391.5 L1240.8 390.2 L1242.7 389.1 L1244.7 388.3 L1246.7 388 L1248.7 388.3 L1250.7 389.1 L1252.6 390.2 L1254.5 391.5 L1256.2 392.9 L1257.7 394.6 L1259.2 396.4 L1261 398 L1263 399.5 L1265 400.9 L1267.3 402.2 L1270 403.5 L1273.1 404.8 L1276.6 406 L1280.3 407.1 L1284 408 L1287.7 408.7 L1291.5 409.2 L1295.3 409.5 L1299.2 409.6 L1303.2 409.5 L1307.2 409.2 L1311.2 408.7 L1315 408 L1318.8 407.1 L1322.5 406 L1326 404.8 L1329 403.5 L1331.3 402.2 L1333 400.8 L1334.5 399.4 L1336 398 L1337.5 396.5 L1339 394.8 L1340.4 393.3 L1342 392 L1343.7 391 L1345.5 390.2 L1347.3 389.6 L1349.2 389.4 L1351.2 389.6 L1353.2 390.2 L1355.2 391 L1357 392 L1358.6 393.3 L1359.9 394.8 L1361.3 396.5 L1363 398 L1364.9 399.4 L1367 400.8 L1369.3 402.2 L1372 403.5 L1375.1 404.8 L1378.7 406 L1382.4 407.1 L1386 408 L1389.8 408.6 L1393.9 409.1 L1397.5 409.4 L1400 409.6 L1400 327 L1383.4 326.8 L1300 326.2 L1194 325.5 L1110 322.5Z" fill="url(#trBase)"/>
</g>
<defs>
<clipPath id="fabBL"><polygon points="50,973.5 399.8,973.5 399.8,966.8 419.8,967.4 428,969.5 433.5,973 434.6,981 434.1,989.8 431,1014.8 426,1039.7 421,1064.6 417.3,1099.5 413.5,1120 408,1140 401.8,1159 397.9,1176.3 395.3,1182.9 370,1184.5 320,1186 244,1186.8 160,1186.5 83.7,1185.5 50,1185"/></clipPath>
<radialGradient id="blBg" gradientUnits="userSpaceOnUse" cx="230" cy="1010" r="330"><stop offset="0" stop-color="#ffffff"/><stop offset="0.3" stop-color="#f8f8f8"/><stop offset="0.65" stop-color="#e9e9ea"/><stop offset="1" stop-color="#dededf"/></radialGradient>
</defs>
<g clip-path="url(#cBL)">
<rect x="50" y="840" width="475" height="475" fill="url(#blBg)"/>
<rect x="428" y="973.6" width="53.5" height="16.2" rx="8" fill="#7d22a0"/><rect x="440" y="980.2" width="33" height="2.6" rx="1.3" fill="#e9e6ee"/><rect x="432" y="974.8" width="44" height="3" rx="1.5" fill="#9638b8" opacity="0.8"/>
<polygon points="50,973.5 399.8,973.5 399.8,966.8 419.8,967.4 428,969.5 433.5,973 434.6,981 434.1,989.8 431,1014.8 426,1039.7 421,1064.6 417.3,1099.5 413.5,1120 408,1140 401.8,1159 397.9,1176.3 395.3,1182.9 370,1184.5 320,1186 244,1186.8 160,1186.5 83.7,1185.5 50,1185" fill="url(#weave)"/>
<polygon points="50,973.5 399.8,973.5 399.8,966.8 419.8,967.4 428,969.5 433.5,973 434.6,981 434.1,989.8 431,1014.8 426,1039.7 421,1064.6 417.3,1099.5 413.5,1120 408,1140 401.8,1159 397.9,1176.3 395.3,1182.9 370,1184.5 320,1186 244,1186.8 160,1186.5 83.7,1185.5 50,1185" fill="#000" filter="url(#fabNoise)"/>
<g clip-path="url(#fabBL)">
<g transform="translate(143 993)"><path d="M0 47 L0 19.9 C-1.7 13.2 -7.3 4.7 -14.3 4.7 C-18.9 4.7 -21 9.8 -21 16.1 C-21 25.8 -10.5 39.4 0 47Z" fill="url(#gred)"/><path d="M0 47 L0 16.9 C1.7 9.4 7.3 0 14.3 0 C18.9 0 21 5.6 21 12.7 C21 23.5 10.5 38.5 0 47Z" fill="url(#gyc)"/></g>
<g transform="translate(238 962)"><path d="M0 34 L0 12.2 C-1.2 6.8 -5.2 0 -10.2 0 C-13.5 0 -15 4.1 -15 9.2 C-15 17 -7.5 27.9 0 34Z" fill="url(#gred)"/><path d="M0 34 L0 12.2 C1.2 6.8 5.2 0 10.2 0 C13.5 0 15 4.1 15 9.2 C15 17 7.5 27.9 0 34Z" fill="url(#gyp)"/></g>
<g transform="translate(262 1009)"><path d="M0 46 L0 18.3 C-1.8 11.4 -7.7 2.8 -15 2.8 C-19.8 2.8 -22 7.9 -22 14.4 C-22 24.4 -11 38.2 0 46Z" fill="url(#gblue)"/><path d="M0 46 L0 16.6 C1.8 9.2 7.7 0 15 0 C19.8 0 22 5.5 22 12.4 C22 23 11 37.7 0 46Z" fill="url(#gredr)"/></g>
<g transform="translate(379.9 986.7)"><path d="M0 44.9 L0 18.5 C-1.7 11.9 -7.4 3.6 -14.4 3.6 C-19 3.6 -21.2 8.5 -21.2 14.7 C-21.2 24.2 -10.6 37.5 0 44.9Z" fill="url(#gred)"/><path d="M0 44.9 L0 16.2 C1.7 9 7.4 0 14.4 0 C19 0 21.1 5.4 21.1 12.1 C21.1 22.4 10.6 36.8 0 44.9Z" fill="url(#gyc)"/></g>
<g transform="translate(83.6 1051.5)"><path d="M0 44.9 L0 19 C-1.8 12.6 -7.7 4.5 -15 4.5 C-19.9 4.5 -22.1 9.3 -22.1 15.4 C-22.1 24.7 -11 37.6 0 44.9Z" fill="url(#gred)"/><path d="M0 44.9 L0 16.2 C1.8 9 7.7 0 15 0 C19.9 0 22.1 5.4 22.1 12.1 C22.1 22.5 11.1 36.8 0 44.9Z" fill="url(#gyp)"/></g>
<g transform="translate(193.3 1065.3)"><path d="M0 45 L0 18.5 C-1.8 11.9 -7.9 3.6 -15.3 3.6 C-20.2 3.6 -22.5 8.6 -22.5 14.8 C-22.5 24.3 -11.2 37.5 0 45Z" fill="url(#gyc)"/><path d="M0 45 L0 16.2 C1.8 9 7.9 0 15.3 0 C20.2 0 22.5 5.4 22.5 12.2 C22.5 22.5 11.2 36.9 0 45Z" fill="url(#gblue)"/></g>
<g transform="translate(326 1044.5)"><path d="M0 46.7 L0 19.8 C-1.7 13.1 -7.5 4.7 -14.5 4.7 C-19.2 4.7 -21.3 9.7 -21.3 16 C-21.3 25.7 -10.7 39.1 0 46.7Z" fill="url(#gred)"/><path d="M0 46.7 L0 16.8 C1.7 9.3 7.5 0 14.5 0 C19.2 0 21.3 5.6 21.3 12.6 C21.3 23.4 10.7 38.3 0 46.7Z" fill="url(#gyp)"/></g>
<g transform="translate(419.7 1058) rotate(4 0 42)"><path d="M0 42 L0 15.1 C-1.1 8.4 -5 0 -9.7 0 C-12.9 0 -14.3 5 -14.3 11.3 C-14.3 21 -7.2 34.4 0 42Z" fill="url(#gyc)"/><path d="M0 42 L0 15.1 C1.1 8.4 5 0 9.7 0 C12.9 0 14.3 5 14.3 11.3 C14.3 21 7.2 34.4 0 42Z" fill="url(#gblue)"/></g>
<g transform="translate(137.5 1111)"><path d="M0 46 L0 19.5 C-1.8 12.9 -7.9 4.6 -15.3 4.6 C-20.2 4.6 -22.5 9.6 -22.5 15.8 C-22.5 25.3 -11.2 38.5 0 46Z" fill="url(#gred)"/><path d="M0 46 L0 16.6 C1.8 9.2 7.9 0 15.3 0 C20.2 0 22.5 5.5 22.5 12.4 C22.5 23 11.2 37.7 0 46Z" fill="url(#gyp)"/></g>
<g transform="translate(266.2 1106.8)"><path d="M0 46.7 L0 19.8 C-1.8 13.1 -7.8 4.7 -15.1 4.7 C-20 4.7 -22.2 9.7 -22.2 16 C-22.2 25.7 -11.1 39.1 0 46.7Z" fill="url(#gred)"/><path d="M0 46.7 L0 16.8 C1.8 9.3 7.8 0 15.1 0 C20 0 22.2 5.6 22.2 12.6 C22.2 23.4 11.1 38.3 0 46.7Z" fill="url(#gyc)"/></g>
<g transform="translate(377.8 1102.7)"><path d="M0 43.9 L0 18.6 C-1.6 12.3 -7.1 4.4 -13.7 4.4 C-18.2 4.4 -20.2 9.1 -20.2 15.1 C-20.2 24.1 -10.1 36.8 0 43.9Z" fill="url(#gred)"/><path d="M0 43.9 L0 15.8 C1.6 8.8 7.1 0 13.7 0 C18.2 0 20.2 5.3 20.2 11.9 C20.2 21.9 10.1 36 0 43.9Z" fill="url(#gyp)"/></g>
<g transform="translate(181.2 1160.4)"><path d="M0 44.6 L0 18.9 C-1.8 12.5 -7.9 4.5 -15.3 4.5 C-20.2 4.5 -22.5 9.3 -22.5 15.3 C-22.5 24.5 -11.2 37.4 0 44.6Z" fill="url(#gblue)"/><path d="M0 44.6 L0 16.1 C1.8 8.9 7.9 0 15.3 0 C20.2 0 22.5 5.4 22.5 12 C22.5 22.3 11.2 36.6 0 44.6Z" fill="url(#gredr)"/></g>
<g transform="translate(332 1170)"><path d="M0 43 L0 15.5 C-1.8 8.6 -7.7 0 -15 0 C-19.8 0 -22 5.2 -22 11.6 C-22 21.5 -11 35.3 0 43Z" fill="url(#gyc)"/><path d="M0 43 L0 17.7 C1.8 11.4 7.7 3.4 15 3.4 C19.8 3.4 22 8.2 22 14.1 C22 23.2 11 35.9 0 43Z" fill="url(#gblue)"/></g>
<g transform="translate(90 1177)"><path d="M0 38 L0 13.7 C-1.6 7.6 -7 0 -13.6 0 C-18 0 -20 4.6 -20 10.3 C-20 19 -10 31.2 0 38Z" fill="url(#gblue)"/><path d="M0 38 L0 16.1 C1.6 10.6 7 3.8 13.6 3.8 C18 3.8 20 7.9 20 13 C20 20.9 10 31.8 0 38Z" fill="url(#gredr)"/></g>
<g transform="translate(406 1150)"><path d="M0 38 L0 13.7 C-1.1 7.6 -4.9 0 -9.5 0 C-12.6 0 -14 4.6 -14 10.3 C-14 19 -7 31.2 0 38Z" fill="url(#gblue)"/><path d="M0 38 L0 16.1 C1.1 10.6 4.9 3.8 9.5 3.8 C12.6 3.8 14 7.9 14 13 C14 20.9 7 31.8 0 38Z" fill="url(#gredr)"/></g>
<g transform="translate(85 950)"><path d="M0 30 L0 10.8 C-1.2 6 -5.2 0 -10.2 0 C-13.5 0 -15 3.6 -15 8.1 C-15 15 -7.5 24.6 0 30Z" fill="url(#gblue)"/><path d="M0 30 L0 10.8 C1.2 6 5.2 0 10.2 0 C13.5 0 15 3.6 15 8.1 C15 15 7.5 24.6 0 30Z" fill="url(#gredr)"/></g>
<g transform="translate(320 950)"><path d="M0 27 L0 9.7 C-1.2 5.4 -5.2 0 -10.2 0 C-13.5 0 -15 3.2 -15 7.3 C-15 13.5 -7.5 22.1 0 27Z" fill="url(#gblue)"/><path d="M0 27 L0 9.7 C1.2 5.4 5.2 0 10.2 0 C13.5 0 15 3.2 15 7.3 C15 13.5 7.5 22.1 0 27Z" fill="url(#gredr)"/></g>
</g>
<rect x="50" y="966.8" width="350" height="7.7" fill="#8a2aa9"/>
<rect x="50" y="966.8" width="350" height="3.6" fill="#a13fc2"/>
<rect x="80" y="1250" width="300" height="16" fill="#d3cbe4" opacity="0.75" filter="url(#blur4)"/>
<ellipse cx="121" cy="1247.5" rx="17" ry="7.5" fill="#2f1158" filter="url(#blur2)"/>
<ellipse cx="212.5" cy="1247.5" rx="17" ry="7.5" fill="#2f1158" filter="url(#blur2)"/>
<ellipse cx="304.5" cy="1247.5" rx="17" ry="7.5" fill="#2f1158" filter="url(#blur2)"/>
<path d="M395.3 1182.9 L395.1 1184.7 L394.7 1187.4 L394.4 1190.3 L394 1193 L393.7 1195.4 L393.4 1197.7 L393.1 1200 L392.6 1202.6 L392 1205.5 L391.2 1208.7 L390.3 1211.9 L389.5 1215 L388.7 1217.9 L387.9 1220.8 L387 1223.6 L386 1226.3 L384.9 1228.9 L383.6 1231.3 L382.3 1233.7 L381 1236 L379.7 1238.3 L378.5 1240.6 L377.1 1242.7 L375.5 1244.7 L373.6 1246.5 L371.5 1248.1 L369.3 1249.6 L367 1251 L364.6 1252.2 L362 1253.4 L359.5 1254.3 L357.1 1255.2 L354.9 1255.9 L352.9 1256.5 L350.9 1256.9 L349 1257.3 L347.1 1257.6 L345.2 1257.8 L343.3 1257.8 L341.4 1257.8 L339.3 1257.7 L337.2 1257.4 L335.1 1257 L333 1256.5 L330.9 1255.8 L328.9 1254.9 L326.8 1254 L325 1253 L323.4 1252 L321.9 1251.1 L320.5 1250 L319 1249 L317.3 1247.9 L315.6 1246.7 L313.8 1245.5 L312 1244.5 L310.2 1243.6 L308.3 1242.8 L306.4 1242.2 L304.5 1242 L302.6 1242.2 L300.7 1242.8 L298.8 1243.6 L297 1244.5 L295.2 1245.5 L293.5 1246.6 L291.7 1247.8 L290 1249 L288.4 1250.1 L286.9 1251.2 L285.2 1252.4 L283 1253.5 L280.2 1254.7 L276.9 1256 L273.4 1257.1 L270 1258 L266.8 1258.6 L263.6 1258.9 L260.4 1259.1 L257.2 1259.1 L253.9 1259.1 L250.5 1258.9 L247.2 1258.6 L244 1258 L240.8 1257.1 L237.6 1256 L234.5 1254.7 L232 1253.5 L230.1 1252.4 L228.6 1251.2 L227.4 1250.1 L226 1249 L224.5 1247.8 L223.1 1246.6 L221.6 1245.5 L220 1244.5 L218.2 1243.6 L216.3 1242.8 L214.4 1242.2 L212.5 1242 L210.6 1242.2 L208.7 1242.8 L206.8 1243.6 L205 1244.5 L203.4 1245.5 L202 1246.6 L200.6 1247.8 L199 1249 L197.3 1250.1 L195.4 1251.3 L193.4 1252.4 L191 1253.5 L188.1 1254.6 L184.8 1255.7 L181.4 1256.7 L178 1257.5 L174.8 1258 L171.6 1258.3 L168.4 1258.5 L165.2 1258.5 L161.9 1258.5 L158.5 1258.3 L155.2 1258 L152 1257.5 L148.8 1256.7 L145.6 1255.7 L142.5 1254.6 L140 1253.5 L138.1 1252.4 L136.6 1251.3 L135.3 1250.1 L134 1249 L132.6 1247.8 L131.3 1246.6 L129.9 1245.5 L128.4 1244.5 L126.7 1243.6 L124.8 1242.8 L122.9 1242.2 L121 1242 L119.2 1242.2 L117.4 1242.8 L115.7 1243.6 L114 1244.5 L112.5 1245.5 L111.1 1246.6 L109.6 1247.8 L108 1249 L106.2 1250.1 L104.4 1251.3 L102.3 1252.4 L100 1253.5 L97.3 1254.6 L94.3 1255.7 L91.2 1256.7 L88 1257.5 L85.1 1258 L82.3 1258.3 L79.1 1258.4 L75 1258.5 L69 1258.5 L61.7 1258.3 L54.8 1258.1 L50 1258 L50 1185 L83.7 1185.5 L160 1186.5 L244 1186.8 L320 1186 L370 1184.5Z" fill="url(#trBase)"/>
<polygon points="422.9,1050.9 445.9,1055.3 436.6,1100.7 417.9,1097" fill="#e3212b"/>
<text transform="translate(430.5 1057.5) rotate(101)" font-family="Liberation Sans, sans-serif" font-weight="bold" font-size="14.5" fill="#ffe6ea" textLength="38" lengthAdjust="spacingAndGlyphs">zipit<tspan font-size="8" dy="-3">®</tspan></text>
</g>
<defs>
<linearGradient id="wmBody" x1="0" y1="0" x2="1" y2="0"><stop offset="0" stop-color="#e6e4ea"/><stop offset="0.5" stop-color="#dfdde4"/><stop offset="1" stop-color="#d6d4db"/></linearGradient>
<linearGradient id="wmKick" x1="0" y1="0" x2="0" y2="1"><stop offset="0" stop-color="#d2d0d7"/><stop offset="1" stop-color="#bfbdc5"/></linearGradient>
<radialGradient id="wmDrum" cx="0.45" cy="0.6" r="0.6"><stop offset="0" stop-color="#55545b"/><stop offset="0.6" stop-color="#424148"/><stop offset="1" stop-color="#35343b"/></radialGradient>
<linearGradient id="wmGlass" x1="0" y1="0" x2="1" y2="1"><stop offset="0" stop-color="#d4d3d8"/><stop offset="0.45" stop-color="#b3b2b8"/><stop offset="1" stop-color="#9a999f"/></linearGradient>
<linearGradient id="wmRing" x1="0.4" y1="0" x2="0.55" y2="1"><stop offset="0" stop-color="#9d9ca2"/><stop offset="0.45" stop-color="#8c8b91"/><stop offset="1" stop-color="#66646b"/></linearGradient><linearGradient id="wmRim" x1="0.4" y1="0" x2="0.55" y2="1"><stop offset="0" stop-color="#c2c1c7"/><stop offset="0.5" stop-color="#b0afb5"/><stop offset="1" stop-color="#8f8e94"/></linearGradient>
<clipPath id="drumClip"><circle cx="1244.8" cy="1093" r="74.8"/></clipPath>
</defs>
<g clip-path="url(#cBR)">
<rect x="920" y="845" width="470" height="470" fill="#9ca7c4"/>
<polygon points="1089.6,891.6 1104,873 1110,871 1400,871 1400,892" fill="#cfcdd4"/>
<polygon points="1104,873 1110,871 1400,871 1400,874.5 1108,874.5" fill="#dcdae0"/>
<rect x="1089.6" y="891.6" width="320" height="430" fill="url(#wmBody)"/>
<rect x="1089.6" y="891.6" width="320" height="55.4" fill="#e5e3ea"/>
<rect x="1089.6" y="946" width="320" height="1.6" fill="#b4b2bb"/>
<rect x="1196.2" y="891.6" width="1.6" height="55" fill="#adabb4"/>
<rect x="1089.6" y="891.6" width="320" height="1.2" fill="#f2f1f5"/>
<rect x="1109.5" y="917.3" width="68.5" height="17.5" rx="1.5" fill="#cfcdd5"/>
<rect x="1112" y="920" width="64" height="12.5" rx="1" fill="#e1e0e6"/>
<rect x="1112" y="920" width="64" height="3" fill="#c6c4cc"/>
<circle cx="1254" cy="920.7" r="14.5" fill="#a9a7b0"/>
<circle cx="1254" cy="920.7" r="12.6" fill="#e8e7ec"/>
<circle cx="1254" cy="920.7" r="10" fill="#dddce2"/>
<rect x="1253.3" y="910" width="1.5" height="7" fill="#6b6972"/>
<rect x="1217" y="900.3" width="14" height="2.2" fill="#8d8b95" opacity="0.6"/>
<rect x="1283" y="900.3" width="10" height="2.2" fill="#8d8b95" opacity="0.6"/>
<rect x="1226" y="903.7" width="18" height="0.8" fill="#9a98a2"/>
<rect x="1265" y="903.7" width="18" height="0.8" fill="#9a98a2"/>
<rect x="1217" y="906.3" width="16" height="2.2" fill="#8d8b95" opacity="0.6"/>
<rect x="1275" y="906.3" width="18" height="2.2" fill="#8d8b95" opacity="0.6"/>
<rect x="1226" y="909.7" width="18" height="0.8" fill="#9a98a2"/>
<rect x="1265" y="909.7" width="18" height="0.8" fill="#9a98a2"/>
<rect x="1217" y="912.3" width="22" height="2.2" fill="#8d8b95" opacity="0.6"/>
<rect x="1279" y="912.3" width="14" height="2.2" fill="#8d8b95" opacity="0.6"/>
<rect x="1217" y="918.3" width="18" height="2.2" fill="#8d8b95" opacity="0.6"/>
<rect x="1285" y="918.3" width="8" height="2.2" fill="#8d8b95" opacity="0.6"/>
<rect x="1226" y="921.7" width="18" height="0.8" fill="#9a98a2"/>
<rect x="1265" y="921.7" width="18" height="0.8" fill="#9a98a2"/>
<rect x="1217" y="924.3" width="20" height="2.2" fill="#8d8b95" opacity="0.6"/>
<rect x="1281" y="924.3" width="12" height="2.2" fill="#8d8b95" opacity="0.6"/>
<rect x="1226" y="927.7" width="18" height="0.8" fill="#9a98a2"/>
<rect x="1265" y="927.7" width="18" height="0.8" fill="#9a98a2"/>
<rect x="1217" y="930.3" width="24" height="2.2" fill="#8d8b95" opacity="0.6"/>
<rect x="1285" y="930.3" width="8" height="2.2" fill="#8d8b95" opacity="0.6"/>
<rect x="1217" y="936.6" width="10" height="2.2" fill="#8d8b95" opacity="0.6"/>
<rect x="1283" y="936.6" width="10" height="2.2" fill="#8d8b95" opacity="0.6"/>
<rect x="1226" y="940" width="18" height="0.8" fill="#9a98a2"/>
<rect x="1265" y="940" width="18" height="0.8" fill="#9a98a2"/>
<rect x="1306.6" y="909.6" width="60" height="30.4" fill="#4b4a50"/>
<rect x="1306.6" y="924" width="60" height="1" fill="#6a6970"/><rect x="1320" y="909.6" width="1" height="30.4" fill="#6a6970"/>
<rect x="1089.6" y="1248.7" width="320" height="80" fill="url(#wmKick)"/>
<rect x="1089.6" y="1247.6" width="320" height="1.8" fill="#b3b1ba"/>
<rect x="1089.6" y="1249.4" width="320" height="1.5" fill="#eceaf0"/>
<circle cx="1246" cy="1093" r="135" fill="#e6e4eb" stroke="#cdcbd3" stroke-width="1.2"/>
<circle cx="1246" cy="1093" r="125" fill="none" stroke="#c3c1c9" stroke-width="8"/>
<circle cx="1246" cy="1093" r="129.5" fill="none" stroke="#f1f0f4" stroke-width="1.5"/>
<circle cx="1246" cy="1093" r="118" fill="#e4e2e9"/>
<path d="M1340 990 C1352 996 1362 1004 1372 1016 C1380 1030 1384 1046 1382 1062 C1378 1068 1370 1070 1368 1076 C1372 1100 1370 1130 1362 1150" fill="none" stroke="#c2c0c8" stroke-width="5" opacity="0.9"/>
<path d="M1334 994 C1350 1000 1364 1014 1374 1032 C1378 1046 1378 1056 1374 1064" fill="none" stroke="#f3f2f6" stroke-width="3" opacity="0.9"/>
<circle cx="1244.8" cy="1093" r="99.5" fill="#a5a3ab"/>
<circle cx="1244.8" cy="1093" r="97.5" fill="#8e8c93"/>
<circle cx="1244.8" cy="1093" r="90" fill="none" stroke="#9b99a0" stroke-width="3"/>
<circle cx="1244.8" cy="1093" r="83.5" fill="#cfced4"/>
<circle cx="1244.8" cy="1093" r="80.5" fill="#dddce1"/>
<circle cx="1244.8" cy="1093" r="75.8" fill="#77757c"/>
<circle cx="1244.8" cy="1093" r="74.8" fill="url(#wmDrum)"/>
<g clip-path="url(#drumClip)">
<path d="M1170 1082 C1190 1076 1215 1075 1235 1085 C1250 1095 1258 1115 1266 1142 C1255 1160 1235 1168 1215 1164 C1190 1154 1174 1122 1170 1082Z" fill="#5f5e64"/>
<path d="M1178 1128 C1192 1150 1216 1162 1245 1164 C1272 1164 1296 1152 1312 1130 C1304 1148 1280 1172 1245 1172 C1212 1172 1186 1150 1178 1128Z" fill="#88878d"/>
<path d="M1241 1028 C1250 1026 1262 1025 1273 1026 C1270 1040 1265 1060 1265 1076 C1266 1090 1270 1100 1273 1107 C1278 1118 1284 1126 1289 1133 L1273 1141 C1268 1130 1262 1118 1257 1107 C1252 1096 1247 1086 1241 1079 C1235 1072 1226 1070 1219 1069 C1208 1068 1200 1068 1194 1069 L1172 1076 L1174 1066 C1190 1062 1200 1061 1210 1060 C1220 1057 1228 1054 1233 1050 C1238 1044 1240 1036 1241 1028Z" fill="#77767c"/>
<ellipse cx="1254" cy="1046" rx="11" ry="14" fill="#a9a8ad" opacity="0.9" filter="url(#blur4)"/>
<path d="M1262 1078 C1264 1096 1272 1112 1282 1130" fill="none" stroke="#a4a3a8" stroke-width="3" opacity="0.8"/>
<path d="M1200 1022 C1215 1030 1232 1034 1242 1030" fill="none" stroke="#54535a" stroke-width="5" opacity="0.8"/>
</g>
<g transform="rotate(3 1049 1092)">
<ellipse cx="1049.4" cy="1091.8" rx="75.5" ry="145.5" fill="url(#wmRim)"/>
<ellipse cx="1052.5" cy="1092" rx="72.5" ry="143.5" fill="url(#wmRing)"/>
<path d="M985 1052 C988 1020 998 994 1014 976 L1030 982 C1028 988 1024 990 1022 996 C1010 1012 1002 1032 999 1056 Z" fill="#79787e"/>
<path d="M985 1052 C988 1020 998 994 1014 976" fill="none" stroke="#6d6c72" stroke-width="1.5"/>
<ellipse cx="1060" cy="1094" rx="53" ry="113" fill="#6f6e74"/>
<ellipse cx="1061.5" cy="1094" rx="49" ry="108.5" fill="#cdccd1"/>
<ellipse cx="1058" cy="1094" rx="44" ry="104" fill="none" stroke="#e4e4e7" stroke-width="3" opacity="0.7"/>
<ellipse cx="1064.5" cy="1094.5" rx="36" ry="88" fill="url(#wmGlass)"/>
<path d="M1031 1064 C1050 1066 1074 1072 1092 1086 L1092 1098 C1072 1092 1050 1090 1030 1094Z" fill="#ececee" opacity="0.92"/>
<path d="M1030 1096 C1050 1092 1072 1094 1092 1100 L1094 1150 C1086 1172 1076 1180 1064 1182 C1046 1176 1034 1146 1030 1096Z" fill="#a2a1a7" opacity="0.75"/>
<rect x="990.5" y="1071" width="18" height="61" rx="2" fill="#a3a2a8"/><rect x="992.5" y="1074" width="13" height="55" rx="1.5" fill="#8f8e94"/><rect x="995" y="1077" width="10" height="49" rx="1" fill="#a9a8ae"/>
<rect x="994" y="1098" width="5" height="6" fill="#4f4e54"/><circle cx="1002" cy="1101" r="2" fill="#e4e3e8"/>
</g>
<path d="M1082 1017 C1112 1024 1138 1050 1144 1082 C1148 1106 1146 1130 1136 1150 C1124 1162 1106 1168 1090 1170 C1104 1142 1108 1112 1106 1084 C1104 1056 1096 1034 1082 1017Z" fill="#a5a4aa" opacity="0.6"/>
<path d="M1082 1017 C1100 1040 1110 1080 1100 1130" fill="none" stroke="#d6d5da" stroke-width="2" opacity="0.6"/>
<rect x="1123.5" y="1068" width="6" height="54" fill="#87868c" opacity="0.9"/>
</g>
<circle cx="790.5" cy="634" r="3.6" fill="#ef503b"/>
<path d="M789.3 637.4 L790 637.4 L790.8 637.4 L791.7 637.4 L792.8 637.4 L794 637.4 L795.3 637.3 L796.6 637.3 L798 637.2 L799.3 637.1 L800.6 637 L801.9 636.8 L803.1 636.6 L804.2 636.5 L805.4 636.3 L806.7 636.1 L807.9 635.9 L809.3 635.6 L810.7 635.3 L812.3 635 L814 634.7 L815.8 634.3 L817.7 634 L819.7 633.6 L821.8 633.1 L824 632.7 L826.4 632.2 L828.8 631.6 L831.4 631 L834.1 630.3 L836.9 629.5 L839.8 628.6 L842.9 627.7 L846.2 626.7 L849.6 625.7 L853.1 624.5 L856.6 623.4 L860.2 622.2 L863.8 620.9 L867.3 619.6 L870.8 618.3 L874.1 617 L877.4 615.6 L880.7 614.2 L883.9 612.8 L887.2 611.4 L890.5 609.8 L893.9 608.3 L897.3 606.6 L900.9 604.9 L904.6 603.1 L908.4 601.2 L912.4 599.4 L916.6 597.4 L920.8 595.4 L925.2 593.3 L929.6 591 L934.1 588.7 L938.7 586.2 L943.2 583.6 L947.8 580.8 L952.3 577.8 L957 574.5 L961.8 571.1 L966.6 567.5 L971.3 563.9 L976 560.3 L980.6 556.6 L985 553.1 L989.2 549.6 L993.1 546.3 L996.8 543.2 L1000.2 540.1 L1003.5 537.2 L1006.5 534.3 L1009.5 531.4 L1012.3 528.6 L1015.1 525.7 L1017.8 522.8 L1020.5 519.9 L1023.3 516.9 L1026.2 513.8 L1029.2 510.6 L1032.1 507.3 L1035 504 L1037.9 500.6 L1040.7 497.3 L1043.5 494 L1046.1 490.7 L1048.6 487.5 L1050.9 484.4 L1053.1 481.3 L1055 478.2 L1056.8 475.3 L1058.5 472.5 L1060 469.7 L1061.4 467 L1062.8 464.5 L1064.2 461.9 L1065.6 459.5 L1067.1 457 L1068.7 454.4 L1070.3 451.8 L1072 449.1 L1073.8 446.4 L1075.5 443.7 L1077.2 441.1 L1078.9 438.5 L1080.6 436 L1082.1 433.5 L1083.6 431.2 L1085 428.9 L1086.4 426.6 L1087.8 424.3 L1089.1 422 L1090.3 419.9 L1091.5 417.9 L1092.5 416.1 L1093.5 414.5 L1094.3 413.1 L1094.9 412 L1081.1 404 L1080.4 405.1 L1079.6 406.5 L1078.7 408.1 L1077.7 409.9 L1076.5 411.8 L1075.3 413.9 L1074 416.1 L1072.7 418.3 L1071.3 420.6 L1070 422.8 L1068.6 425.1 L1067.1 427.5 L1065.6 430 L1063.9 432.6 L1062.2 435.3 L1060.5 438 L1058.8 440.7 L1057.1 443.5 L1055.4 446.2 L1053.7 449 L1052.1 451.8 L1050.6 454.6 L1049.2 457.3 L1047.9 459.9 L1046.5 462.5 L1045.2 465.1 L1043.7 467.7 L1042.2 470.3 L1040.5 472.9 L1038.7 475.6 L1036.6 478.5 L1034.3 481.5 L1031.9 484.7 L1029.3 487.9 L1026.6 491.1 L1023.9 494.4 L1021.1 497.6 L1018.3 500.8 L1015.4 504 L1012.7 507.1 L1009.9 510.1 L1007.3 513 L1004.6 515.8 L1002 518.6 L999.4 521.4 L996.6 524.1 L993.8 526.9 L990.7 529.7 L987.5 532.6 L984.1 535.7 L980.3 538.9 L976.2 542.3 L971.9 545.8 L967.4 549.3 L962.9 552.9 L958.2 556.4 L953.6 559.9 L949 563.2 L944.5 566.3 L940.2 569.2 L936.1 571.9 L931.9 574.5 L927.6 576.9 L923.4 579.3 L919.2 581.6 L915 583.7 L910.9 585.8 L906.8 587.9 L902.8 589.9 L899 591.9 L895.3 593.8 L891.9 595.6 L888.5 597.3 L885.3 598.9 L882.1 600.5 L879 602 L875.9 603.5 L872.8 604.9 L869.6 606.3 L866.4 607.7 L863.2 609.1 L859.8 610.4 L856.4 611.8 L853 613.1 L849.6 614.4 L846.2 615.6 L842.9 616.8 L839.8 617.9 L836.7 619 L833.9 619.9 L831.3 620.8 L828.8 621.5 L826.4 622.2 L824.1 622.9 L821.9 623.4 L819.7 624 L817.7 624.5 L815.7 625 L813.8 625.4 L812 625.9 L810.3 626.4 L808.8 626.8 L807.4 627.1 L806.1 627.5 L804.9 627.8 L803.8 628 L802.7 628.3 L801.6 628.6 L800.5 628.8 L799.4 629 L798.2 629.3 L797 629.5 L795.8 629.8 L794.5 630 L793.3 630.2 L792.2 630.3 L791.1 630.5 L790.2 630.7 L789.3 630.8 L788.7 631Z" fill="#ef503b"/>
<path d="M1102.3 389 L1104.1 389 L1104.3 390 L1104.2 392.1 L1103.9 395.7 L1103.2 400.4 L1102.5 405 L1102 409 L1101.4 413 L1100.8 417.2 L1100.1 422 L1099.3 427 L1098.5 432 L1097.7 436.8 L1096.9 441.5 L1096.2 446.1 L1095.7 451 L1095.3 455.9 L1094.7 459.8 L1093.7 462.2 L1092.4 463.7 L1090.9 464.4 L1089 464.5 L1086.8 463.8 L1084.8 462.8 L1083 461.5 L1081.4 459.7 L1080.2 457.5 L1079.8 454.6 L1079.9 451.3 L1080 448 L1080.3 444.8 L1080.6 441.6 L1080.2 438.5 L1078.4 435.8 L1075.9 433.3 L1074 430 L1073.6 424.8 L1073.7 418.8 L1073.4 414.9 L1072 414.6 L1070 416.3 L1068 418 L1066.2 419.1 L1064.3 420.2 L1062 421 L1059 421.4 L1055.6 421.5 L1052.8 421 L1050.7 419.8 L1049.1 418 L1048.3 416.4 L1048.2 415.1 L1048.9 413.9 L1050.5 412.6 L1053.4 411 L1057.2 409.3 L1061 407.5 L1064.4 405.7 L1067.9 403.9 L1071.9 402 L1076.6 399.9 L1081.8 397.7 L1087 395.5 L1092.6 393 L1098.2 390.5Z" fill="#ef503b" stroke="#ef503b" stroke-width="1.5" stroke-linejoin="round"/>
<path d="M383.6 645.6 L382.4 645.9 L380.8 646.4 L378.9 646.9 L376.8 647.6 L374.5 648.3 L372.2 649.1 L369.7 650 L367.3 650.9 L365 651.8 L362.8 652.8 L360.7 653.8 L358.7 654.9 L356.6 656 L354.6 657.2 L352.5 658.4 L350.5 659.6 L348.5 661 L346.5 662.3 L344.5 663.7 L342.6 665.1 L340.7 666.6 L338.8 668.2 L337 669.8 L335.2 671.5 L333.4 673.2 L331.6 674.9 L329.8 676.6 L328.1 678.4 L326.4 680.2 L324.6 682 L322.9 683.9 L321.2 685.8 L319.4 687.7 L317.7 689.7 L316.1 691.7 L314.4 693.7 L312.7 695.8 L311.1 697.8 L309.4 699.8 L307.8 701.8 L306.2 703.9 L304.6 705.9 L303 707.9 L301.4 710 L299.8 712 L298.2 714.1 L296.7 716.2 L295.1 718.4 L293.5 720.5 L292 722.7 L290.5 724.9 L289 727.2 L287.5 729.5 L286 731.8 L284.5 734.2 L283.1 736.5 L281.6 738.9 L280.2 741.3 L278.8 743.7 L277.5 746 L276.2 748.4 L275 750.7 L273.8 753 L272.6 755.4 L271.5 757.7 L270.4 760 L269.3 762.3 L268.2 764.7 L267.1 767 L266.1 769.4 L265 771.8 L264 774.3 L262.9 776.8 L261.8 779.4 L260.8 782 L259.8 784.5 L258.8 787.1 L257.8 789.6 L256.9 792 L256.1 794.4 L255.3 796.7 L254.6 798.9 L254 801.1 L253.3 803.2 L252.7 805.3 L252.2 807.3 L251.7 809.4 L251.1 811.4 L250.7 813.5 L250.2 815.6 L249.7 817.8 L249.2 820 L248.8 822.2 L248.4 824.5 L248 826.7 L247.7 828.9 L247.3 831 L247 833 L246.7 835 L246.3 837 L246 838.8 L245.7 840.6 L245.4 842.4 L245.1 844.1 L244.8 845.7 L244.6 847.4 L244.3 849.1 L244 850.8 L243.8 852.5 L243.6 854.2 L243.3 856 L243 857.7 L242.8 859.5 L242.6 861.2 L242.3 862.9 L242.1 864.7 L241.9 866.4 L241.7 868 L241.5 869.7 L241.3 871.3 L241.1 873 L240.8 874.8 L240.6 876.7 L240.3 878.5 L240 880.3 L239.8 882.1 L239.6 883.7 L239.4 885.1 L239.2 886.3 L239 887.3 L251 888.7 L251 887.8 L251.2 886.6 L251.3 885.2 L251.5 883.5 L251.7 881.8 L251.9 880 L252.1 878.1 L252.3 876.2 L252.5 874.4 L252.7 872.7 L252.9 871 L253 869.3 L253.2 867.6 L253.4 865.9 L253.5 864.2 L253.7 862.5 L253.9 860.8 L254 859.1 L254.2 857.4 L254.4 855.8 L254.7 854.2 L255 852.6 L255.3 851 L255.6 849.4 L255.9 847.8 L256.2 846.1 L256.6 844.4 L256.9 842.7 L257.3 840.9 L257.7 839 L258 837.1 L258.4 835 L258.8 833 L259.2 830.9 L259.6 828.8 L260 826.6 L260.4 824.5 L260.9 822.4 L261.3 820.4 L261.8 818.4 L262.3 816.4 L262.9 814.4 L263.4 812.5 L263.9 810.6 L264.5 808.7 L265.1 806.7 L265.7 804.8 L266.4 802.8 L267.1 800.7 L267.9 798.6 L268.7 796.4 L269.6 794.1 L270.6 791.7 L271.6 789.3 L272.6 786.8 L273.6 784.4 L274.7 781.9 L275.8 779.4 L276.9 777 L277.9 774.6 L279 772.3 L280 769.9 L281 767.6 L282 765.4 L283 763.1 L284.1 760.9 L285.1 758.7 L286.2 756.4 L287.3 754.2 L288.5 752 L289.7 749.7 L291 747.5 L292.3 745.2 L293.6 742.9 L295 740.6 L296.4 738.3 L297.8 736 L299.2 733.7 L300.6 731.5 L302 729.3 L303.4 727.1 L304.7 725 L306.1 722.8 L307.5 720.7 L308.9 718.6 L310.4 716.5 L311.8 714.4 L313.3 712.3 L314.7 710.2 L316.2 708.2 L317.7 706.1 L319.2 704 L320.7 701.9 L322.2 699.8 L323.7 697.8 L325.2 695.7 L326.7 693.7 L328.3 691.8 L329.8 689.9 L331.4 688 L332.9 686.1 L334.5 684.3 L336.1 682.5 L337.7 680.7 L339.2 679 L340.8 677.3 L342.5 675.6 L344.1 674 L345.7 672.4 L347.4 670.9 L349.1 669.3 L350.8 667.8 L352.5 666.4 L354.3 664.9 L356.1 663.5 L357.9 662.2 L359.7 660.9 L361.5 659.6 L363.4 658.4 L365.2 657.2 L367.1 656 L369.2 654.9 L371.4 653.7 L373.6 652.6 L375.8 651.6 L378 650.6 L380 649.6 L381.7 648.8 L383.2 648.1 L384.4 647.4Z" fill="#ef503b"/>
<path d="M226.6 851.5 L226.9 849.6 L227.9 849.2 L229 849 L230 848.6 L231 848.5 L232.1 848.6 L233.4 849 L234.7 849.6 L236 850.8 L237.1 852.7 L238 855.1 L239 857.5 L240 859.7 L240.9 862 L242.1 864.1 L243.5 866 L245.2 867.9 L247 870 L249.2 873.1 L251.6 876.5 L253.7 878.5 L255.3 878 L256.7 876 L258 874 L259.3 872.4 L260.5 870.8 L262 869.6 L264.2 868.9 L266.8 868.5 L268.7 868.5 L269.8 868.7 L270.3 869.2 L269.8 870.7 L267.9 873.5 L264.9 877.3 L262 881 L259.3 884.4 L256.6 887.7 L254 891 L251.4 894.5 L248.8 897.9 L246.5 900.6 L244.4 902.4 L242.6 903.5 L241 904 L239.9 904.2 L239.1 903.7 L238.2 901.7 L236.9 897.2 L235.4 891.1 L234 885 L232.6 879.3 L231.3 873.6 L230 868 L228.6 861.9 L227.3 855.9Z" fill="#ef503b" stroke="#ef503b" stroke-width="1.5" stroke-linejoin="round"/>
<circle cx="718" cy="687" r="2.8" fill="#ef503b"/>
<path d="M716.9 689.4 L717.7 689.7 L718.6 690 L719.7 690.3 L720.9 690.7 L722.2 691 L723.6 691.4 L725 691.8 L726.4 692.3 L727.8 692.7 L729.2 693.1 L730.5 693.6 L731.9 694 L733.2 694.4 L734.6 694.9 L736 695.3 L737.3 695.8 L738.7 696.3 L740.1 696.8 L741.4 697.4 L742.8 698 L744.2 698.7 L745.6 699.4 L747.1 700.1 L748.5 700.9 L750 701.7 L751.5 702.6 L753 703.4 L754.6 704.3 L756.2 705.2 L757.8 706.2 L759.4 707.1 L761 708.1 L762.7 709.2 L764.4 710.2 L766.1 711.3 L767.9 712.4 L769.6 713.5 L771.3 714.6 L773.1 715.7 L774.8 716.8 L776.4 717.8 L778.1 718.8 L779.7 719.8 L781.3 720.7 L783 721.7 L784.5 722.7 L786.1 723.7 L787.7 724.6 L789.3 725.6 L790.9 726.6 L792.5 727.7 L794.2 728.7 L795.8 729.7 L797.5 730.8 L799.1 731.8 L800.7 732.9 L802.4 734 L804 735.1 L805.7 736.2 L807.3 737.2 L808.9 738.3 L810.5 739.4 L812.1 740.5 L813.6 741.6 L815.2 742.7 L816.8 743.9 L818.4 745 L820 746.1 L821.6 747.3 L823.2 748.5 L824.9 749.7 L826.5 750.9 L828.2 752.1 L829.9 753.3 L831.6 754.5 L833.2 755.8 L834.9 757 L836.5 758.2 L838.1 759.5 L839.7 760.7 L841.3 762 L842.9 763.3 L844.5 764.5 L846 765.7 L847.5 767 L849 768.3 L850.5 769.6 L852 770.9 L853.6 772.3 L855.1 773.7 L856.7 775.2 L858.2 776.7 L859.8 778.3 L861.3 779.8 L862.9 781.5 L864.5 783.2 L866.1 785 L867.9 786.8 L869.7 788.8 L871.6 790.9 L873.7 793.2 L875.9 795.6 L878.1 798.2 L880.5 800.9 L882.9 803.6 L885.3 806.3 L887.7 809 L890 811.7 L892.2 814.3 L894.2 816.8 L896.2 819.2 L898.1 821.5 L899.9 823.8 L901.7 826 L903.4 828.3 L905.1 830.5 L906.8 832.7 L908.5 835 L910.2 837.2 L911.9 839.6 L913.6 841.9 L915.3 844.3 L917.1 846.7 L918.8 849.2 L920.5 851.6 L922.2 854 L923.9 856.4 L925.5 858.8 L927 861.1 L928.5 863.3 L930 865.5 L931.3 867.7 L932.7 869.7 L933.9 871.8 L935.2 873.8 L936.4 875.7 L937.6 877.7 L938.7 879.7 L939.8 881.7 L941 883.8 L942.1 886 L943.2 888.1 L944.3 890.4 L945.3 892.6 L946.4 894.9 L947.4 897.2 L948.5 899.5 L949.5 901.8 L950.5 904.1 L951.5 906.3 L952.4 908.6 L953.3 910.8 L954.3 913 L955.2 915.3 L956.1 917.5 L956.9 919.7 L957.7 921.9 L958.6 924 L959.3 926.1 L960.1 928 L960.8 929.9 L961.5 931.9 L962.2 933.8 L962.9 935.8 L963.5 937.6 L964.1 939.4 L964.7 941 L965.2 942.5 L965.6 943.8 L966 944.8 L982 939.2 L981.7 938.2 L981.3 937 L980.8 935.6 L980.2 933.9 L979.6 932.1 L978.9 930.2 L978.2 928.2 L977.5 926.1 L976.7 924 L975.9 922 L975.1 919.9 L974.3 917.9 L973.4 915.7 L972.5 913.5 L971.6 911.2 L970.6 908.9 L969.6 906.6 L968.6 904.3 L967.6 902 L966.5 899.7 L965.5 897.4 L964.4 895.1 L963.4 892.7 L962.2 890.4 L961.1 888 L959.9 885.6 L958.7 883.2 L957.5 880.8 L956.3 878.5 L955 876.2 L953.8 873.9 L952.5 871.7 L951.2 869.6 L949.9 867.5 L948.6 865.4 L947.2 863.3 L945.9 861.2 L944.4 859.1 L943 856.9 L941.5 854.7 L939.9 852.4 L938.3 850 L936.6 847.6 L934.9 845.1 L933.1 842.7 L931.3 840.2 L929.5 837.7 L927.7 835.3 L925.9 832.8 L924.1 830.4 L922.4 828.1 L920.6 825.8 L918.9 823.5 L917.1 821.2 L915.4 819 L913.5 816.7 L911.7 814.4 L909.8 812 L907.8 809.6 L905.8 807.2 L903.6 804.6 L901.3 802 L898.9 799.3 L896.4 796.5 L894 793.7 L891.5 791 L889.1 788.3 L886.7 785.8 L884.5 783.3 L882.4 781.1 L880.4 778.9 L878.5 776.9 L876.7 775 L875 773.2 L873.3 771.4 L871.6 769.7 L869.9 768.1 L868.3 766.5 L866.6 764.9 L864.9 763.3 L863.2 761.7 L861.5 760.2 L859.8 758.8 L858.1 757.4 L856.5 756 L854.9 754.7 L853.2 753.5 L851.6 752.2 L849.9 750.9 L848.3 749.7 L846.5 748.4 L844.8 747.1 L843 745.8 L841.2 744.6 L839.5 743.4 L837.7 742.2 L836 741 L834.2 739.8 L832.5 738.7 L830.8 737.5 L829.1 736.4 L827.4 735.3 L825.8 734.2 L824.1 733.1 L822.4 732 L820.8 731 L819.1 729.9 L817.5 728.9 L815.8 727.8 L814.1 726.8 L812.4 725.7 L810.7 724.6 L809 723.6 L807.3 722.5 L805.6 721.5 L803.9 720.4 L802.2 719.4 L800.5 718.4 L798.8 717.4 L797.1 716.4 L795.4 715.4 L793.7 714.5 L792 713.5 L790.3 712.6 L788.6 711.7 L787 710.8 L785.3 709.9 L783.6 709 L781.9 708.1 L780.2 707.2 L778.5 706.3 L776.7 705.4 L774.9 704.4 L773.1 703.4 L771.3 702.5 L769.4 701.5 L767.6 700.5 L765.8 699.6 L764 698.7 L762.2 697.8 L760.5 697 L758.9 696.2 L757.2 695.4 L755.6 694.6 L753.9 693.9 L752.3 693.2 L750.6 692.5 L749 691.8 L747.4 691.2 L745.8 690.6 L744.2 690 L742.6 689.6 L741 689.1 L739.4 688.7 L737.9 688.4 L736.5 688 L735 687.7 L733.6 687.4 L732.2 687.1 L730.8 686.9 L729.4 686.6 L727.9 686.3 L726.4 686 L724.9 685.7 L723.5 685.4 L722.1 685.2 L720.9 685 L719.8 684.8 L718.8 684.7 L718.1 684.6Z" fill="#ef503b"/>
<path d="M977.3 904.9 L978.9 903 L981 901.8 L983.1 901.2 L985.5 901.1 L987.9 901.6 L989.8 902.4 L990.8 903.2 L991.2 904.3 L991.4 906.6 L991.5 910.9 L991.3 916.4 L991.2 922 L991.1 927.2 L991.1 932.6 L991 938.1 L990.9 943.9 L990.9 950 L990.8 956 L990.8 962.5 L990.8 969 L990.6 973.9 L990 976.5 L989.1 977.5 L988.1 978 L987.4 978.5 L986.7 978.6 L984.8 977.6 L981 975.1 L976 971.5 L971 968 L966.3 964.9 L961.6 961.8 L957.4 958.9 L953.9 956.2 L950.9 953.6 L948 951 L944.7 948.1 L941.4 945.3 L939.1 943.1 L938.2 942.1 L938.1 941.9 L938.7 941.5 L939.8 940.6 L941.4 939.7 L943.3 939 L945.6 938.7 L948.2 938.6 L950.7 939 L952.9 940 L954.9 941.5 L957 943 L959.1 944.8 L961.2 946.7 L963.2 947.3 L964.9 946 L966.4 943.5 L968 940 L970.1 935.1 L972.3 929.1 L974 924 L974.8 920.5 L975.1 917.8 L975.5 915 L975.9 911.5 L976.4 907.8Z" fill="#ef503b" stroke="#ef503b" stroke-width="1.5" stroke-linejoin="round"/>
</svg>
<div class="lbl" style="left:1002.98px;top:42.80px;transform:scaleX(0.6870);">SILICONE BASE</div>
<div class="lbl" style="left:68.19px;top:1329.50px;transform:scaleX(0.7028);">ROOMY INTERIOR</div>
<div class="lbl" style="left:852.03px;top:1329.50px;transform:scaleX(0.6921);">MACHINE WASHABLE</div>
</body></html>
